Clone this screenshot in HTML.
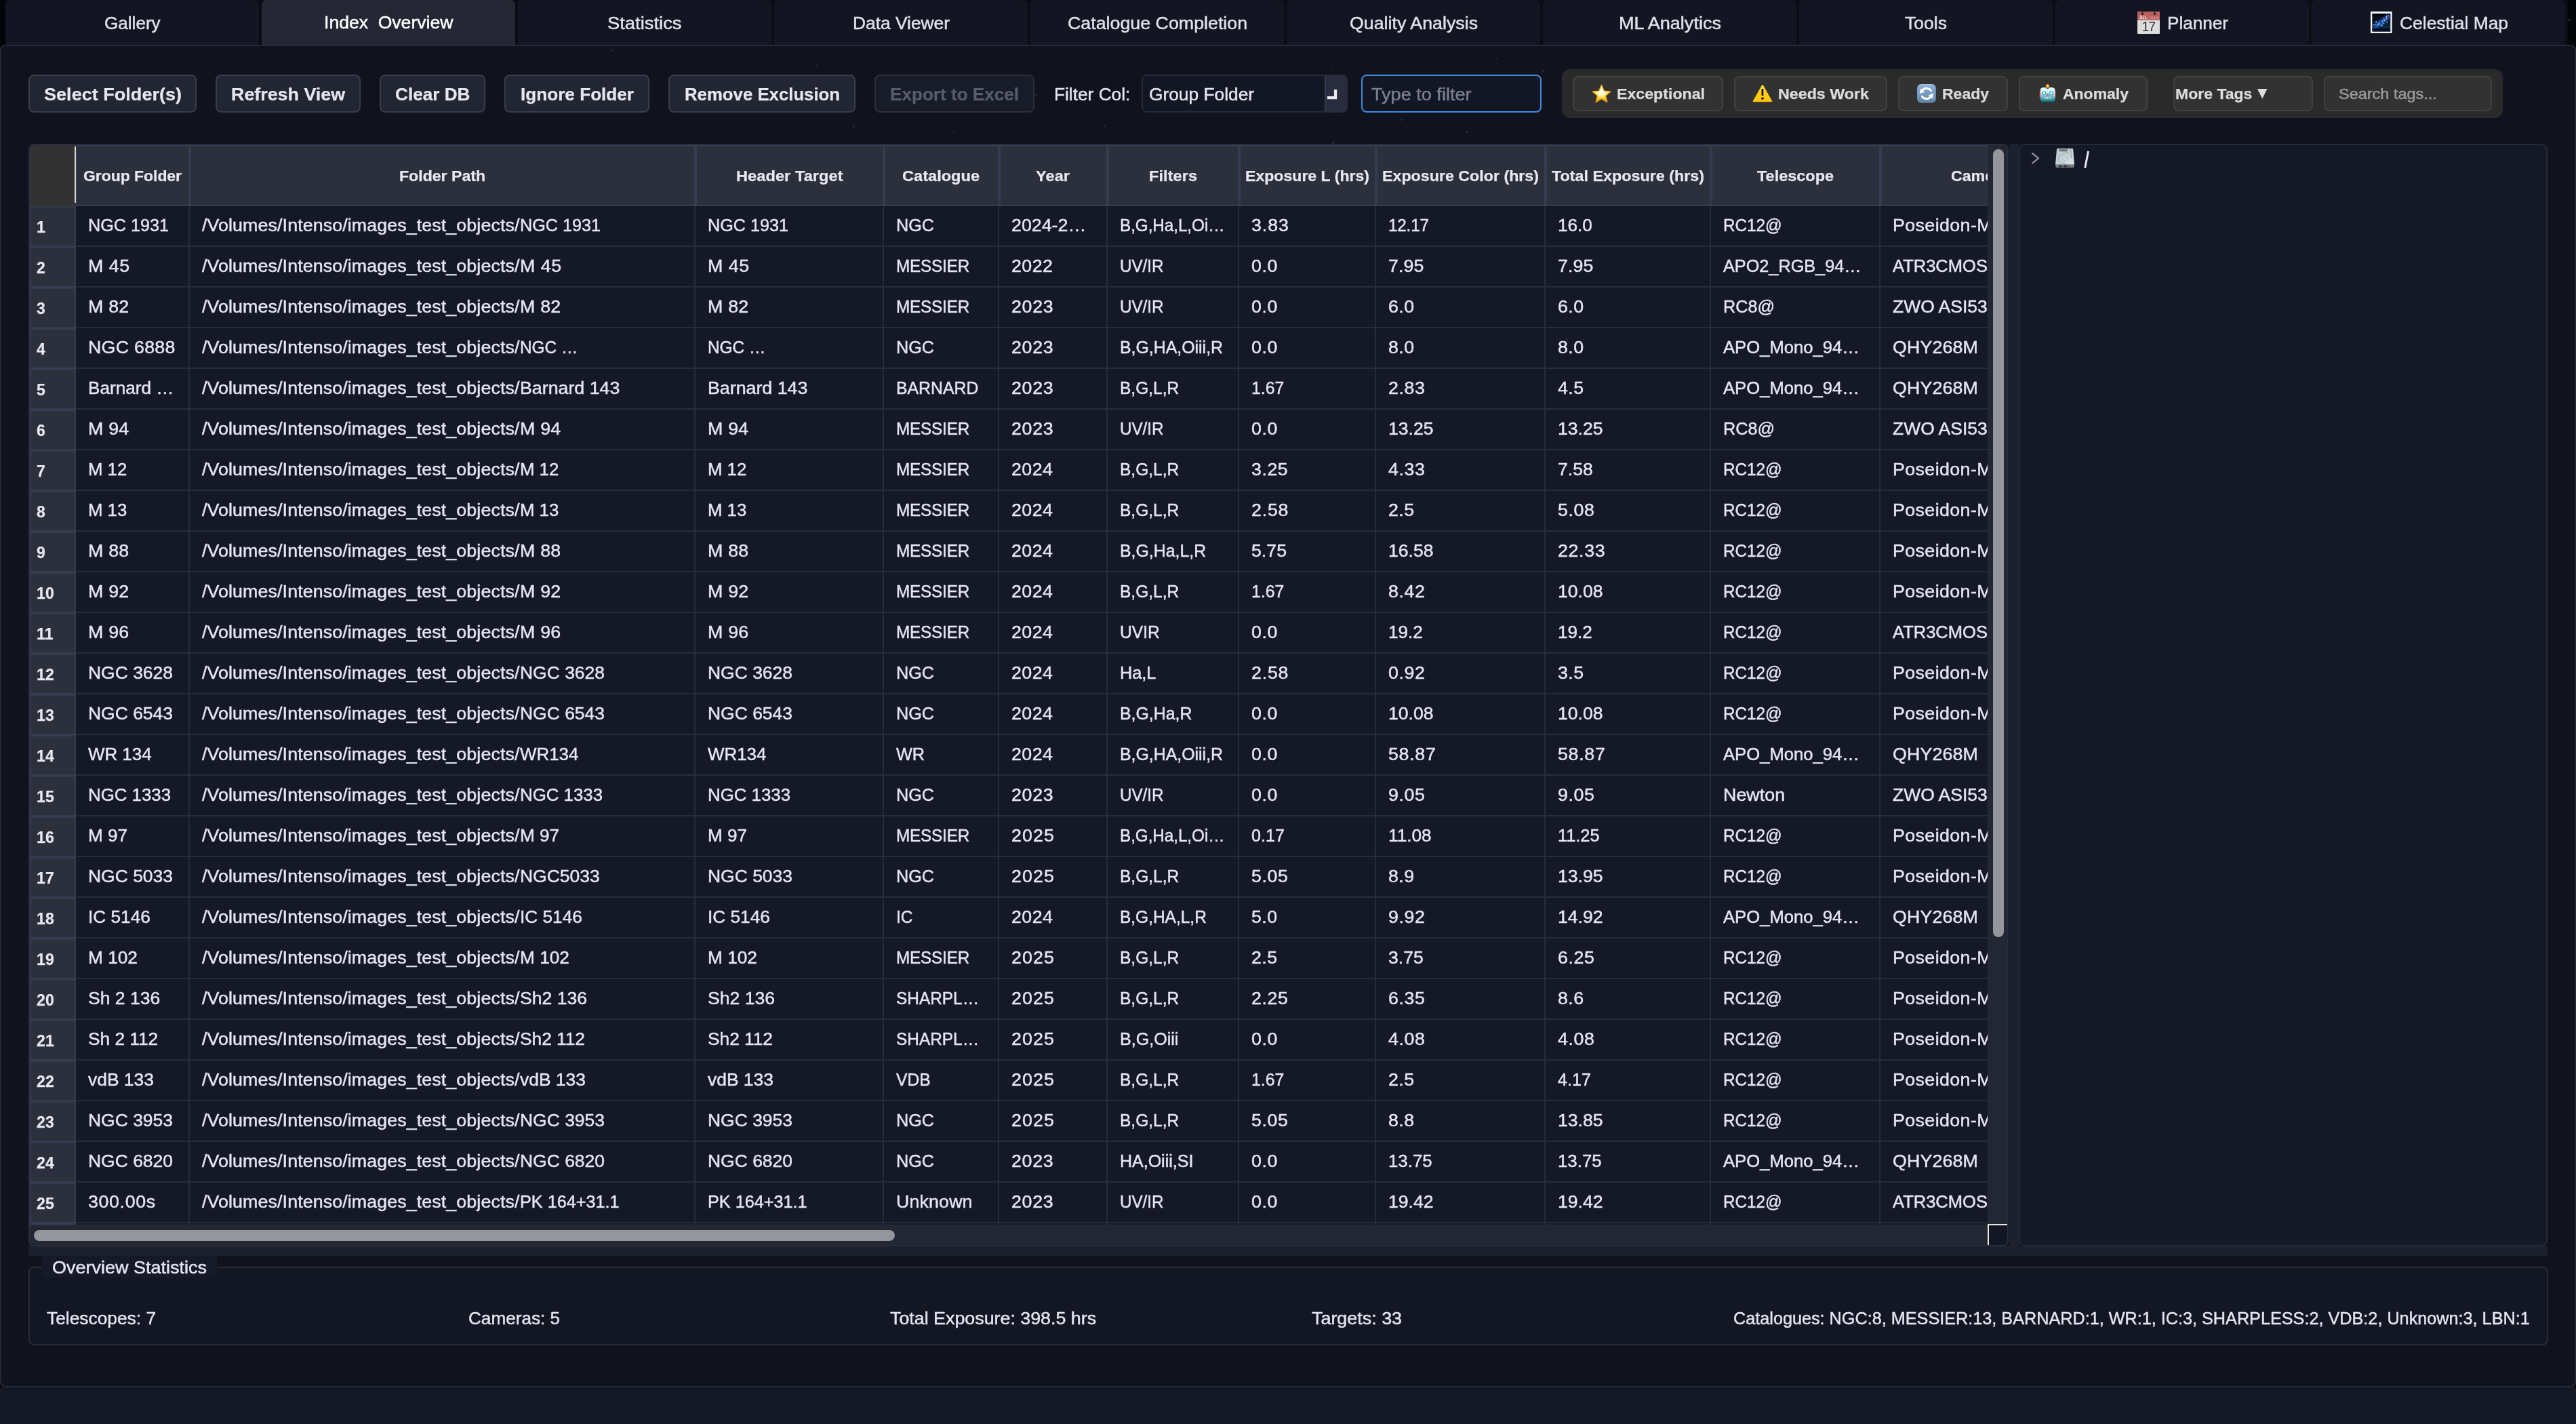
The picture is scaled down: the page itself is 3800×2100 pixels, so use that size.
<!DOCTYPE html>
<html><head><meta charset="utf-8"><title>Index Overview</title><style>
html,body{margin:0;padding:0;}
body{width:3800px;height:2100px;overflow:hidden;background:#141824;font-family:"Liberation Sans",sans-serif;position:relative;}
.b{position:absolute;box-sizing:border-box;}
.t{position:absolute;white-space:pre;overflow:visible;transform-origin:0 50%;-webkit-text-stroke:0.45px currentColor;}
svg{position:absolute;overflow:visible;}
</style></head><body><div id="root" style="position:absolute;left:0;top:0;width:3800px;height:2100px;will-change:transform;">
<div class="b" style="left:0px;top:0px;width:3800px;height:70px;background:#040508;"></div>
<div class="b" style="left:8px;top:0px;width:3780px;height:68px;background:#0b0d14;"></div>
<div class="b" style="left:0px;top:2038px;width:8px;height:8px;background:#040508;"></div>
<div class="b" style="left:3792px;top:2038px;width:8px;height:8px;background:#040508;"></div>
<div class="b" style="left:0px;top:66px;width:3800px;height:1980px;background:#10131d;border:2px solid #242939;border-radius:8px;"></div>
<div class="b" style="left:8px;top:0px;width:374px;height:66px;background:#131622;border-radius:7px 7px 0 0;"></div>
<div class="t" style="left:153.7px;top:1px;height:67px;line-height:67px;font-size:26px;color:#dfe2ee;transform:scaleX(1.0031);">Gallery</div>
<div class="b" style="left:386px;top:0px;width:374px;height:66px;background:#252735;border-radius:7px 7px 0 0;"></div>
<div class="t" style="left:477.85px;top:0px;height:67px;line-height:67px;font-size:26px;color:#ffffff;transform:scaleX(1.0211);">Index  Overview</div>
<div class="b" style="left:764px;top:0px;width:374px;height:66px;background:#131622;border-radius:7px 7px 0 0;"></div>
<div class="t" style="left:896.25px;top:1px;height:67px;line-height:67px;font-size:26px;color:#dfe2ee;transform:scaleX(1.0527);">Statistics</div>
<div class="b" style="left:1142px;top:0px;width:374px;height:66px;background:#131622;border-radius:7px 7px 0 0;"></div>
<div class="t" style="left:1257.5px;top:1px;height:67px;line-height:67px;font-size:26px;color:#dfe2ee;transform:scaleX(1.0133);">Data Viewer</div>
<div class="b" style="left:1520px;top:0px;width:374px;height:66px;background:#131622;border-radius:7px 7px 0 0;"></div>
<div class="t" style="left:1574.5px;top:1px;height:67px;line-height:67px;font-size:26px;color:#dfe2ee;transform:scaleX(1.0303);">Catalogue Completion</div>
<div class="b" style="left:1898px;top:0px;width:374px;height:66px;background:#131622;border-radius:7px 7px 0 0;"></div>
<div class="t" style="left:1990.5px;top:1px;height:67px;line-height:67px;font-size:26px;color:#dfe2ee;transform:scaleX(1.0300);">Quality Analysis</div>
<div class="b" style="left:2276px;top:0px;width:374px;height:66px;background:#131622;border-radius:7px 7px 0 0;"></div>
<div class="t" style="left:2387.5px;top:1px;height:67px;line-height:67px;font-size:26px;color:#dfe2ee;transform:scaleX(1.0417);">ML Analytics</div>
<div class="b" style="left:2654px;top:0px;width:374px;height:66px;background:#131622;border-radius:7px 7px 0 0;"></div>
<div class="t" style="left:2810.0px;top:1px;height:67px;line-height:67px;font-size:26px;color:#dfe2ee;transform:scaleX(1.0216);">Tools</div>
<div class="b" style="left:3032px;top:0px;width:374px;height:66px;background:#131622;border-radius:7px 7px 0 0;"></div>
<div class="t" style="left:3197px;top:1px;height:67px;line-height:67px;font-size:26px;color:#dfe2ee;transform:scaleX(1.0045);">Planner</div>
<div class="b" style="left:3410px;top:0px;width:374px;height:66px;background:#131622;border-radius:7px 7px 0 0;"></div>
<div class="t" style="left:3540.4px;top:1px;height:67px;line-height:67px;font-size:26px;color:#dfe2ee;transform:scaleX(1.0160);">Celestial Map</div>
<svg style="left:3153px;top:17px" width="33" height="33" viewBox="0 0 33 33">
<rect x="0" y="0" width="33" height="33" rx="1" fill="#dcdcdb"/>
<rect x="0" y="0" width="33" height="12.7" fill="#b9605d"/>
<path d="M7.5 0v3M25.5 0v3" stroke="#222" stroke-width="0.8"/>
<circle cx="7.5" cy="3.2" r="1.7" fill="#1e1e22"/><circle cx="25.5" cy="3.2" r="1.7" fill="#1e1e22"/>
<text x="2.2" y="11.3" font-family="Liberation Sans" font-size="6.6" fill="#f6e6e4" font-weight="bold">JUL</text>
<path d="M18.5 7v4M20.3 7.6v3.4M22.1 7v4M23.9 7.6v3.4M25.7 7v4M27.5 7.6v3.4M29.3 7v4M31 7.6v3.4" stroke="#d99a97" stroke-width="0.8"/>
<text x="16.2" y="29.2" font-family="Liberation Sans" font-size="19.5" fill="#333" text-anchor="middle" letter-spacing="-1.2">17</text>
</svg>
<svg style="left:3496.75px;top:17.1px" width="31.6" height="31.9" viewBox="0 0 31.6 31.9">
<defs>
<linearGradient id="mwb" x1="0" y1="0" x2="0" y2="1"><stop offset="0" stop-color="#00030a"/><stop offset="0.35" stop-color="#03101d"/><stop offset="0.8" stop-color="#063048"/><stop offset="0.86" stop-color="#020d1e"/><stop offset="1" stop-color="#050a36"/></linearGradient>
<filter id="bl1" x="-30%" y="-30%" width="160%" height="160%"><feGaussianBlur stdDeviation="1.6"/></filter>
<filter id="bl2" x="-30%" y="-30%" width="160%" height="160%"><feGaussianBlur stdDeviation="0.45"/></filter>
<clipPath id="mwc"><rect x="2.3" y="2.9" width="27" height="26.8"/></clipPath>
</defs>
<rect x="0" y="0" width="31.6" height="31.9" fill="#fbfcfd"/>
<rect x="2.3" y="2.9" width="27" height="26.8" fill="url(#mwb)"/>
<g clip-path="url(#mwc)">
<ellipse cx="16" cy="15.5" rx="15" ry="3.6" transform="rotate(-38 16 15.5)" fill="#2b5fd6" opacity="0.85" filter="url(#bl1)"/>
<ellipse cx="25" cy="9" rx="5" ry="3" transform="rotate(-50 25 9)" fill="#5a4fb0" opacity="0.6" filter="url(#bl1)"/>
<g fill="#8fd0f5" filter="url(#bl2)">
<circle cx="8.2" cy="15.3" r="1.1"/><circle cx="12.2" cy="17" r="0.9"/><circle cx="4.4" cy="19.4" r="0.8"/><circle cx="7.3" cy="19.2" r="0.8"/><circle cx="11" cy="19.6" r="1"/>
<circle cx="14.8" cy="19.3" r="0.7"/><circle cx="16.8" cy="20.8" r="1"/><circle cx="19.3" cy="17.8" r="1"/><circle cx="17.5" cy="14.5" r="0.8"/><circle cx="20.3" cy="13" r="1.2"/>
<circle cx="24.3" cy="15.5" r="1"/><circle cx="23.2" cy="10.5" r="0.9"/><circle cx="19.5" cy="9.5" r="0.7"/><circle cx="23.4" cy="7.5" r="1"/><circle cx="25.7" cy="5.5" r="0.8"/><circle cx="23.5" cy="3.8" r="0.5"/>
</g>
<path d="M2.3 25.6 l2 -0.5 l2 -1 l2.2 0.9 l2 0.5 l2.5 -0.9 l2.5 -0.9 l2.5 0.9 l2.5 0.7 l3 -1.2 l2.5 0.9 l1.3 0.3 v1.6 h-27z" fill="#020a18" opacity="0.9"/>
</g>
</svg>
<div class="b" style="left:3788.5px;top:27.5px;width:3px;height:3px;background:#4a4f58;border-radius:1px;opacity:.5"></div><div class="b" style="left:901.0px;top:72.5px;width:3px;height:3px;background:#34404f;border-radius:1px;opacity:.5"></div><div class="b" style="left:1203.5px;top:95.3px;width:3px;height:3px;background:#2a3442;border-radius:1px;opacity:.5"></div><div class="b" style="left:1258.0px;top:184.5px;width:3px;height:3px;background:#343f52;border-radius:1px;opacity:.5"></div><div class="b" style="left:1074.1px;top:113.1px;width:3px;height:3px;background:#2b3346;border-radius:1px;opacity:.5"></div><div class="b" style="left:2274.8px;top:103.2px;width:3px;height:3px;background:#3a4a60;border-radius:1px;opacity:.5"></div><div class="b" style="left:2065.9px;top:175.3px;width:3px;height:3px;background:#34445a;border-radius:1px;opacity:.5"></div><div class="b" style="left:2163.0px;top:192.9px;width:3px;height:3px;background:#3a4e68;border-radius:1px;opacity:.5"></div><div class="b" style="left:1964.8px;top:208.8px;width:3px;height:3px;background:#3a4658;border-radius:1px;opacity:.5"></div><div class="b" style="left:2205.5px;top:85.3px;width:3px;height:3px;background:#2a3648;border-radius:1px;opacity:.5"></div><div class="b" style="left:1965.3px;top:96.3px;width:3px;height:3px;background:#28303f;border-radius:1px;opacity:.5"></div><div class="b" style="left:1526.9px;top:139.2px;width:3px;height:3px;background:#34405a;border-radius:1px;opacity:.5"></div><div class="b" style="left:1395.7px;top:125.5px;width:3px;height:3px;background:#2d3850;border-radius:1px;opacity:.5"></div><div class="b" style="left:1628.3px;top:184.0px;width:3px;height:3px;background:#2c3850;border-radius:1px;opacity:.5"></div><div class="b" style="left:1405.1px;top:192.7px;width:3px;height:3px;background:#28344a;border-radius:1px;opacity:.5"></div><div class="b" style="left:1780.5px;top:145.5px;width:3px;height:3px;background:#3a4a66;border-radius:1px;opacity:.5"></div><div class="b" style="left:1418.5px;top:411.5px;width:3px;height:3px;background:#2a3446;border-radius:1px;opacity:.5"></div><div class="b" style="left:83.5px;top:316.5px;width:2px;height:2px;background:#2a3850;border-radius:1px;opacity:.5"></div><div class="b" style="left:3388.5px;top:866.5px;width:3px;height:3px;background:#262d40;border-radius:1px;opacity:.5"></div><div class="b" style="left:3294.5px;top:1201.5px;width:3px;height:3px;background:#262d40;border-radius:1px;opacity:.5"></div><div class="b" style="left:3638.5px;top:1762.5px;width:3px;height:3px;background:#283044;border-radius:1px;opacity:.5"></div><div class="b" style="left:2584.5px;top:1315.5px;width:3px;height:3px;background:#222a3c;border-radius:1px;opacity:.5"></div>
<div class="b" style="left:42px;top:110px;width:248px;height:56px;background:#222532;border:2px solid #383c4c;border-radius:8px;"></div>
<div class="t" style="left:64.5px;top:111px;height:56px;line-height:56px;font-size:26px;color:#e4e6f2;font-weight:bold;-webkit-text-stroke-width:0.25px;transform:scaleX(1.0411);">Select Folder(s)</div>
<div class="b" style="left:318px;top:110px;width:214px;height:56px;background:#222532;border:2px solid #383c4c;border-radius:8px;"></div>
<div class="t" style="left:341.0px;top:111px;height:56px;line-height:56px;font-size:26px;color:#e4e6f2;font-weight:bold;-webkit-text-stroke-width:0.25px;transform:scaleX(1.0321);">Refresh View</div>
<div class="b" style="left:560px;top:110px;width:156px;height:56px;background:#222532;border:2px solid #383c4c;border-radius:8px;"></div>
<div class="t" style="left:582.75px;top:111px;height:56px;line-height:56px;font-size:26px;color:#e4e6f2;font-weight:bold;-webkit-text-stroke-width:0.25px;transform:scaleX(1.0063);">Clear DB</div>
<div class="b" style="left:744px;top:110px;width:214px;height:56px;background:#222532;border:2px solid #383c4c;border-radius:8px;"></div>
<div class="t" style="left:767.5px;top:111px;height:56px;line-height:56px;font-size:26px;color:#e4e6f2;font-weight:bold;-webkit-text-stroke-width:0.25px;transform:scaleX(1.0056);">Ignore Folder</div>
<div class="b" style="left:986px;top:110px;width:276px;height:56px;background:#222532;border:2px solid #383c4c;border-radius:8px;"></div>
<div class="t" style="left:1009.5px;top:111px;height:56px;line-height:56px;font-size:26px;color:#e4e6f2;font-weight:bold;-webkit-text-stroke-width:0.25px;transform:scaleX(0.9908);">Remove Exclusion</div>
<div class="b" style="left:1290px;top:110px;width:236px;height:56px;background:#181b28;border:2px solid #2d2f35;border-radius:8px;"></div>
<div class="t" style="left:1313.0px;top:111px;height:56px;line-height:56px;font-size:26px;color:#575b6c;font-weight:bold;-webkit-text-stroke-width:0.25px;transform:scaleX(1.0041);">Export to Excel</div>
<div class="t" style="left:1554.7px;top:111px;height:56px;line-height:56px;font-size:26px;color:#e3e6f2;transform:scaleX(1.0097);">Filter Col:</div>
<div class="b" style="left:1684px;top:110px;width:304px;height:56px;background:#131623;border:2px solid #262b3b;border-radius:8px;"></div>
<div class="b" style="left:1956px;top:110px;width:32px;height:56px;background:#282c3c;border-radius:0 8px 8px 0;"></div>
<div class="b" style="left:1954px;top:112px;width:2px;height:52px;background:#363c4f;"></div>
<div class="t" style="left:1694.8px;top:111px;height:56px;line-height:56px;font-size:26px;color:#e3e6f2;transform:scaleX(1.0122);">Group Folder</div>
<svg style="left:1958px;top:132px" width="15" height="15" viewBox="0 0 15 15"><path d="M12.05 0 V12.05 H0" fill="none" stroke="#e8eaf3" stroke-width="4.3"/></svg>
<div class="b" style="left:2008px;top:110px;width:266px;height:56px;background:#131623;border:2px solid #3d8bdd;border-radius:8px;"></div>
<div class="t" style="left:2023px;top:111px;height:56px;line-height:56px;font-size:26px;color:#7b7f91;transform:scaleX(1.0419);">Type to filter</div>
<div class="b" style="left:2304px;top:102px;width:1388px;height:72px;background:#2a2a2a;border-radius:12px;"></div>
<div class="b" style="left:2320px;top:112px;width:222px;height:52px;background:#323232;border:2px solid #424242;border-radius:8px;"></div>
<div class="b" style="left:2558px;top:112px;width:226px;height:52px;background:#323232;border:2px solid #424242;border-radius:8px;"></div>
<div class="b" style="left:2800px;top:112px;width:162px;height:52px;background:#323232;border:2px solid #424242;border-radius:8px;"></div>
<div class="b" style="left:2978px;top:112px;width:190px;height:52px;background:#323232;border:2px solid #424242;border-radius:8px;"></div>
<div class="b" style="left:3206px;top:112px;width:206px;height:52px;background:#323232;border:2px solid #424242;border-radius:8px;"></div>
<div class="b" style="left:3428px;top:112px;width:248px;height:52px;background:#323232;border:2px solid #424242;border-radius:8px;"></div>
<div class="t" style="left:2384.7px;top:113px;height:52px;line-height:52px;font-size:22px;color:#dcdcdc;font-weight:bold;-webkit-text-stroke-width:0.25px;transform:scaleX(1.0529);">Exceptional</div>
<div class="t" style="left:2623px;top:113px;height:52px;line-height:52px;font-size:22px;color:#dcdcdc;font-weight:bold;-webkit-text-stroke-width:0.25px;transform:scaleX(1.0572);">Needs Work</div>
<div class="t" style="left:2865.2px;top:113px;height:52px;line-height:52px;font-size:22px;color:#dcdcdc;font-weight:bold;-webkit-text-stroke-width:0.25px;transform:scaleX(1.0450);">Ready</div>
<div class="t" style="left:3043.4px;top:113px;height:52px;line-height:52px;font-size:22px;color:#dcdcdc;font-weight:bold;-webkit-text-stroke-width:0.25px;transform:scaleX(1.0441);">Anomaly</div>
<div class="t" style="left:3208.6px;top:113px;height:52px;line-height:52px;font-size:22px;color:#dcdcdc;font-weight:bold;-webkit-text-stroke-width:0.25px;transform:scaleX(1.0462);">More Tags</div>
<svg style="left:3330px;top:131px" width="15" height="15" viewBox="0 0 15 15"><path d="M0 0 H14.5 L7.25 14.5z" fill="#dcdcdc"/></svg>
<div class="t" style="left:3450px;top:113px;height:52px;line-height:52px;font-size:22px;color:#9b9b9b;transform:scaleX(1.0669);">Search tags...</div>
<svg style="left:2347.5px;top:123.5px" width="29" height="28" viewBox="0 0 29 28">
<defs><radialGradient id="sg" cx="0.5" cy="0.36" r="0.62"><stop offset="0" stop-color="#fffef0"/><stop offset="0.38" stop-color="#fff7c0"/><stop offset="0.62" stop-color="#ffdc42"/><stop offset="0.85" stop-color="#fbb21c"/><stop offset="1" stop-color="#f39a10"/></radialGradient></defs>
<path d="M14.5 1.2 L18.3 10.1 L27.9 10.9 L20.6 17.2 L22.9 26.6 L14.5 21.6 L6.1 26.6 L8.4 17.2 L1.1 10.9 L10.7 10.1 Z" fill="url(#sg)" stroke="#f0a012" stroke-width="1.3" stroke-linejoin="round"/>
</svg>
<svg style="left:2585px;top:124px" width="30" height="27" viewBox="0 0 30 27">
<defs><linearGradient id="wg" x1="0" y1="0" x2="0" y2="1"><stop offset="0" stop-color="#ffd83a"/><stop offset="1" stop-color="#ffc500"/></linearGradient></defs>
<path d="M15 2 L28.2 25.2 H1.8 Z" fill="url(#wg)" stroke="url(#wg)" stroke-width="2" stroke-linejoin="round"/>
<rect x="13.6" y="7" width="2.7" height="10" rx="0.6" fill="#0a0a0a"/><circle cx="14.95" cy="21.3" r="1.75" fill="#0a0a0a"/>
</svg>
<svg style="left:2828.1px;top:124.1px" width="27.8" height="27.8" viewBox="0 0 27.8 27.8">
<defs><linearGradient id="rg" x1="0" y1="0" x2="0" y2="1"><stop offset="0" stop-color="#a6c3df"/><stop offset="0.12" stop-color="#86abd0"/><stop offset="0.6" stop-color="#7398be"/><stop offset="1" stop-color="#62829f"/></linearGradient></defs>
<rect x="0" y="0" width="27.8" height="27.8" rx="6" fill="url(#rg)"/>
<path d="M20.9 10.7 A7.6 7.6 0 0 0 7.3 10.1" fill="none" stroke="#fff" stroke-width="3.1"/>
<path d="M3.6 14.2 L4.9 6.4 L11.2 11.4 Z" fill="#fff"/>
<path d="M6.9 17.1 A7.6 7.6 0 0 0 20.5 17.7" fill="none" stroke="#fff" stroke-width="3.1"/>
<path d="M24.2 13.6 L22.9 21.4 L16.6 16.4 Z" fill="#fff"/>
</svg>
<svg style="left:3007.5px;top:123.5px" width="25" height="26.6" viewBox="0 0 25 26.6">
<defs><linearGradient id="bg1" x1="0" y1="0" x2="0" y2="1"><stop offset="0" stop-color="#e8fbfb"/><stop offset="0.3" stop-color="#d6f4f5"/><stop offset="0.55" stop-color="#97cdd4"/><stop offset="0.85" stop-color="#2c94a7"/><stop offset="1" stop-color="#0f6277"/></linearGradient>
<radialGradient id="bg2" cx="0.45" cy="0.35" r="0.7"><stop offset="0" stop-color="#ffe56e"/><stop offset="0.6" stop-color="#ffb21a"/><stop offset="1" stop-color="#ee8a08"/></radialGradient></defs>
<rect x="0.3" y="11.3" width="2.6" height="8.4" rx="1.2" fill="#d4261c"/><rect x="22.2" y="11.3" width="2.6" height="8.4" rx="1.2" fill="#d4261c"/>
<rect x="1.8" y="5" width="21.8" height="21.3" rx="4.6" fill="url(#bg1)"/>
<ellipse cx="12.5" cy="5.4" rx="2.7" ry="1.5" fill="#6a3f97"/>
<circle cx="12.5" cy="2.9" r="2.6" fill="url(#bg2)"/>
<circle cx="7.4" cy="13.5" r="3.1" fill="#22b3dc"/><circle cx="17.8" cy="13.5" r="3.1" fill="#22b3dc"/>
<circle cx="7.4" cy="13.5" r="1.75" fill="#ffffff"/><circle cx="17.8" cy="13.5" r="1.75" fill="#ffffff"/>
<path d="M12.6 13.9 l2.1 3.7 h-4.2z" fill="#e2454b"/>
<rect x="8.1" y="19.6" width="8.9" height="2.4" rx="1" fill="#f4f3ee"/>
<path d="M9.9 19.6v2.4M11.7 19.6v2.4M13.5 19.6v2.4M15.3 19.6v2.4" stroke="#5a4a44" stroke-width="0.6"/>
</svg>
<div class="b" style="left:42px;top:212px;width:2921px;height:1626px;background:#151826;border:2px solid #292e3f;border-radius:8px;"></div>
<div class="b" style="left:44px;top:214px;width:2888px;height:1592px;overflow:hidden;border-radius:6px 0 0 0;">
<div class="b" style="left:0px;top:0px;width:2889px;height:90px;background:#2c2f3c;"></div>
<div class="b" style="left:0px;top:0px;width:68px;height:90px;background:#323232;"></div>
<div class="b" style="left:66px;top:2px;width:2px;height:83px;background:#d9d6d1;"></div>
<div class="b" style="left:68px;top:0px;width:2830px;height:2px;background:#363c4f;"></div>
<div class="b" style="left:68px;top:88px;width:2830px;height:2px;background:#363c4f;"></div>
<div class="b" style="left:68px;top:0px;width:2px;height:90px;background:#363c4f;"></div>
<div class="b" style="left:234px;top:0px;width:4px;height:90px;background:#363c4f;"></div>
<div class="t" style="left:78.80000000000001px;top:1px;height:90px;line-height:90px;font-size:22px;color:#e6e8f3;font-weight:bold;-webkit-text-stroke-width:0.25px;transform:scaleX(1.0408);">Group Folder</div>
<div class="b" style="left:980px;top:0px;width:4px;height:90px;background:#363c4f;"></div>
<div class="t" style="left:544.8px;top:1px;height:90px;line-height:90px;font-size:22px;color:#e6e8f3;font-weight:bold;-webkit-text-stroke-width:0.25px;transform:scaleX(1.0496);">Folder Path</div>
<div class="b" style="left:1258px;top:0px;width:4px;height:90px;background:#363c4f;"></div>
<div class="t" style="left:1041.5px;top:1px;height:90px;line-height:90px;font-size:22px;color:#e6e8f3;font-weight:bold;-webkit-text-stroke-width:0.25px;letter-spacing:0.081px;transform:scaleX(1.0700);">Header Target</div>
<div class="b" style="left:1428px;top:0px;width:4px;height:90px;background:#363c4f;"></div>
<div class="t" style="left:1287.3px;top:1px;height:90px;line-height:90px;font-size:22px;color:#e6e8f3;font-weight:bold;-webkit-text-stroke-width:0.25px;letter-spacing:0.025px;transform:scaleX(1.0700);">Catalogue</div>
<div class="b" style="left:1588px;top:0px;width:4px;height:90px;background:#363c4f;"></div>
<div class="t" style="left:1484.3px;top:1px;height:90px;line-height:90px;font-size:22px;color:#e6e8f3;font-weight:bold;-webkit-text-stroke-width:0.25px;letter-spacing:0.082px;transform:scaleX(1.0700);">Year</div>
<div class="b" style="left:1782px;top:0px;width:4px;height:90px;background:#363c4f;"></div>
<div class="t" style="left:1650.8px;top:1px;height:90px;line-height:90px;font-size:22px;color:#e6e8f3;font-weight:bold;-webkit-text-stroke-width:0.25px;letter-spacing:0.057px;transform:scaleX(1.0700);">Filters</div>
<div class="b" style="left:1984px;top:0px;width:4px;height:90px;background:#363c4f;"></div>
<div class="t" style="left:1792.8px;top:1px;height:90px;line-height:90px;font-size:22px;color:#e6e8f3;font-weight:bold;-webkit-text-stroke-width:0.25px;transform:scaleX(1.0493);">Exposure L (hrs)</div>
<div class="b" style="left:2234px;top:0px;width:4px;height:90px;background:#363c4f;"></div>
<div class="t" style="left:1994.8000000000002px;top:1px;height:90px;line-height:90px;font-size:22px;color:#e6e8f3;font-weight:bold;-webkit-text-stroke-width:0.25px;transform:scaleX(1.0558);">Exposure Color (hrs)</div>
<div class="b" style="left:2478px;top:0px;width:4px;height:90px;background:#363c4f;"></div>
<div class="t" style="left:2244.8px;top:1px;height:90px;line-height:90px;font-size:22px;color:#e6e8f3;font-weight:bold;-webkit-text-stroke-width:0.25px;transform:scaleX(1.0599);">Total Exposure (hrs)</div>
<div class="b" style="left:2728px;top:0px;width:4px;height:90px;background:#363c4f;"></div>
<div class="t" style="left:2547.8px;top:1px;height:90px;line-height:90px;font-size:22px;color:#e6e8f3;font-weight:bold;-webkit-text-stroke-width:0.25px;transform:scaleX(1.0664);">Telescope</div>
<div class="b" style="left:3022px;top:0px;width:4px;height:90px;background:#363c4f;"></div>
<div class="t" style="left:2833.8px;top:1px;height:90px;line-height:90px;font-size:22px;color:#e6e8f3;font-weight:bold;-webkit-text-stroke-width:0.25px;transform:scaleX(1.0530);">Camera</div>
<div class="b" style="left:234px;top:90px;width:2px;height:1510px;background:#272b3b;"></div>
<div class="b" style="left:980px;top:90px;width:2px;height:1510px;background:#272b3b;"></div>
<div class="b" style="left:1258px;top:90px;width:2px;height:1510px;background:#272b3b;"></div>
<div class="b" style="left:1428px;top:90px;width:2px;height:1510px;background:#272b3b;"></div>
<div class="b" style="left:1588px;top:90px;width:2px;height:1510px;background:#272b3b;"></div>
<div class="b" style="left:1782px;top:90px;width:2px;height:1510px;background:#272b3b;"></div>
<div class="b" style="left:1984px;top:90px;width:2px;height:1510px;background:#272b3b;"></div>
<div class="b" style="left:2234px;top:90px;width:2px;height:1510px;background:#272b3b;"></div>
<div class="b" style="left:2478px;top:90px;width:2px;height:1510px;background:#272b3b;"></div>
<div class="b" style="left:2728px;top:90px;width:2px;height:1510px;background:#272b3b;"></div>
<div class="b" style="left:3022px;top:90px;width:2px;height:1510px;background:#272b3b;"></div>
<div class="b" style="left:68px;top:148px;width:2830px;height:2px;background:#272b3b;"></div>
<div class="b" style="left:0px;top:90px;width:68px;height:60px;background:#2c2f3c;border:2px solid #363c4f;"></div>
<div class="t" style="left:10px;top:91.5px;height:58px;line-height:58px;font-size:23px;color:#e6e8f3;font-weight:bold;-webkit-text-stroke-width:0.25px;letter-spacing:0.300px;">1</div>
<div class="t" style="left:86px;top:89px;height:58px;line-height:58px;font-size:25px;color:#e3e6f2;transform:scaleX(1.0083);">NGC 1931</div>
<div class="t" style="left:254px;top:89px;height:58px;line-height:58px;font-size:25px;color:#e3e6f2;letter-spacing:0.116px;transform:scaleX(1.0700);">/Volumes/Intenso/images_test_objects/</div>
<div class="t" style="left:722.5px;top:89px;height:58px;line-height:58px;font-size:25px;color:#e3e6f2;transform:scaleX(1.0083);">NGC 1931</div>
<div class="t" style="left:1000px;top:89px;height:58px;line-height:58px;font-size:25px;color:#e3e6f2;transform:scaleX(1.0083);">NGC 1931</div>
<div class="t" style="left:1278px;top:89px;height:58px;line-height:58px;font-size:25px;color:#e3e6f2;transform:scaleX(1.0082);">NGC</div>
<div class="t" style="left:1448px;top:89px;height:58px;line-height:58px;font-size:25px;color:#e3e6f2;letter-spacing:0.021px;transform:scaleX(1.0700);">2024-2…</div>
<div class="t" style="left:1608px;top:89px;height:58px;line-height:58px;font-size:25px;color:#e3e6f2;letter-spacing:-0.047px;transform:scaleX(0.9700);">B,G,Ha,L,Oi…</div>
<div class="t" style="left:1802px;top:89px;height:58px;line-height:58px;font-size:25px;color:#e3e6f2;letter-spacing:0.910px;transform:scaleX(1.0700);">3.83</div>
<div class="t" style="left:2004px;top:89px;height:58px;line-height:58px;font-size:25px;color:#e3e6f2;letter-spacing:-0.181px;transform:scaleX(0.9700);">12.17</div>
<div class="t" style="left:2254px;top:89px;height:58px;line-height:58px;font-size:25px;color:#e3e6f2;transform:scaleX(1.0437);">16.0</div>
<div class="t" style="left:2498px;top:89px;height:58px;line-height:58px;font-size:25px;color:#e3e6f2;letter-spacing:-0.026px;transform:scaleX(0.9700);">RC12@</div>
<div class="t" style="left:2748px;top:89px;height:58px;line-height:58px;font-size:25px;color:#e3e6f2;letter-spacing:0.390px;transform:scaleX(1.0700);">Poseidon-M</div>
<div class="b" style="left:68px;top:208px;width:2830px;height:2px;background:#272b3b;"></div>
<div class="b" style="left:0px;top:150px;width:68px;height:60px;background:#2c2f3c;border:2px solid #363c4f;"></div>
<div class="t" style="left:10px;top:151.5px;height:58px;line-height:58px;font-size:23px;color:#e6e8f3;font-weight:bold;-webkit-text-stroke-width:0.25px;letter-spacing:0.300px;">2</div>
<div class="t" style="left:86px;top:149px;height:58px;line-height:58px;font-size:25px;color:#e3e6f2;letter-spacing:0.534px;transform:scaleX(1.0700);">M 45</div>
<div class="t" style="left:254px;top:149px;height:58px;line-height:58px;font-size:25px;color:#e3e6f2;letter-spacing:0.116px;transform:scaleX(1.0700);">/Volumes/Intenso/images_test_objects/</div>
<div class="t" style="left:722.5px;top:149px;height:58px;line-height:58px;font-size:25px;color:#e3e6f2;letter-spacing:0.534px;transform:scaleX(1.0700);">M 45</div>
<div class="t" style="left:1000px;top:149px;height:58px;line-height:58px;font-size:25px;color:#e3e6f2;letter-spacing:0.534px;transform:scaleX(1.0700);">M 45</div>
<div class="t" style="left:1278px;top:149px;height:58px;line-height:58px;font-size:25px;color:#e3e6f2;letter-spacing:-0.162px;transform:scaleX(0.9700);">MESSIER</div>
<div class="t" style="left:1448px;top:149px;height:58px;line-height:58px;font-size:25px;color:#e3e6f2;letter-spacing:0.461px;transform:scaleX(1.0700);">2022</div>
<div class="t" style="left:1608px;top:149px;height:58px;line-height:58px;font-size:25px;color:#e3e6f2;letter-spacing:-0.070px;transform:scaleX(0.9700);">UV/IR</div>
<div class="t" style="left:1802px;top:149px;height:58px;line-height:58px;font-size:25px;color:#e3e6f2;letter-spacing:0.514px;transform:scaleX(1.0700);">0.0</div>
<div class="t" style="left:2004px;top:149px;height:58px;line-height:58px;font-size:25px;color:#e3e6f2;letter-spacing:0.131px;transform:scaleX(1.0700);">7.95</div>
<div class="t" style="left:2254px;top:149px;height:58px;line-height:58px;font-size:25px;color:#e3e6f2;letter-spacing:0.131px;transform:scaleX(1.0700);">7.95</div>
<div class="t" style="left:2498px;top:149px;height:58px;line-height:58px;font-size:25px;color:#e3e6f2;transform:scaleX(1.0099);">APO2_RGB_94…</div>
<div class="t" style="left:2748px;top:149px;height:58px;line-height:58px;font-size:25px;color:#e3e6f2;transform:scaleX(1.0209);">ATR3CMOS</div>
<div class="b" style="left:68px;top:268px;width:2830px;height:2px;background:#272b3b;"></div>
<div class="b" style="left:0px;top:210px;width:68px;height:60px;background:#2c2f3c;border:2px solid #363c4f;"></div>
<div class="t" style="left:10px;top:211.5px;height:58px;line-height:58px;font-size:23px;color:#e6e8f3;font-weight:bold;-webkit-text-stroke-width:0.25px;letter-spacing:0.300px;">3</div>
<div class="t" style="left:86px;top:209px;height:58px;line-height:58px;font-size:25px;color:#e3e6f2;letter-spacing:0.209px;transform:scaleX(1.0700);">M 82</div>
<div class="t" style="left:254px;top:209px;height:58px;line-height:58px;font-size:25px;color:#e3e6f2;letter-spacing:0.116px;transform:scaleX(1.0700);">/Volumes/Intenso/images_test_objects/</div>
<div class="t" style="left:722.5px;top:209px;height:58px;line-height:58px;font-size:25px;color:#e3e6f2;letter-spacing:0.209px;transform:scaleX(1.0700);">M 82</div>
<div class="t" style="left:1000px;top:209px;height:58px;line-height:58px;font-size:25px;color:#e3e6f2;letter-spacing:0.209px;transform:scaleX(1.0700);">M 82</div>
<div class="t" style="left:1278px;top:209px;height:58px;line-height:58px;font-size:25px;color:#e3e6f2;letter-spacing:-0.162px;transform:scaleX(0.9700);">MESSIER</div>
<div class="t" style="left:1448px;top:209px;height:58px;line-height:58px;font-size:25px;color:#e3e6f2;letter-spacing:0.680px;transform:scaleX(1.0700);">2023</div>
<div class="t" style="left:1608px;top:209px;height:58px;line-height:58px;font-size:25px;color:#e3e6f2;letter-spacing:-0.070px;transform:scaleX(0.9700);">UV/IR</div>
<div class="t" style="left:1802px;top:209px;height:58px;line-height:58px;font-size:25px;color:#e3e6f2;letter-spacing:0.514px;transform:scaleX(1.0700);">0.0</div>
<div class="t" style="left:2004px;top:209px;height:58px;line-height:58px;font-size:25px;color:#e3e6f2;letter-spacing:0.425px;transform:scaleX(1.0700);">6.0</div>
<div class="t" style="left:2254px;top:209px;height:58px;line-height:58px;font-size:25px;color:#e3e6f2;letter-spacing:0.425px;transform:scaleX(1.0700);">6.0</div>
<div class="t" style="left:2498px;top:209px;height:58px;line-height:58px;font-size:25px;color:#e3e6f2;transform:scaleX(1.0078);">RC8@</div>
<div class="t" style="left:2748px;top:209px;height:58px;line-height:58px;font-size:25px;color:#e3e6f2;transform:scaleX(1.0583);">ZWO ASI53</div>
<div class="b" style="left:68px;top:328px;width:2830px;height:2px;background:#272b3b;"></div>
<div class="b" style="left:0px;top:270px;width:68px;height:60px;background:#2c2f3c;border:2px solid #363c4f;"></div>
<div class="t" style="left:10px;top:271.5px;height:58px;line-height:58px;font-size:23px;color:#e6e8f3;font-weight:bold;-webkit-text-stroke-width:0.25px;letter-spacing:0.300px;">4</div>
<div class="t" style="left:86px;top:269px;height:58px;line-height:58px;font-size:25px;color:#e3e6f2;letter-spacing:0.268px;transform:scaleX(1.0700);">NGC 6888</div>
<div class="t" style="left:254px;top:269px;height:58px;line-height:58px;font-size:25px;color:#e3e6f2;letter-spacing:0.116px;transform:scaleX(1.0700);">/Volumes/Intenso/images_test_objects/</div>
<div class="t" style="left:722.5px;top:269px;height:58px;line-height:58px;font-size:25px;color:#e3e6f2;transform:scaleX(0.9757);">NGC …</div>
<div class="t" style="left:1000px;top:269px;height:58px;line-height:58px;font-size:25px;color:#e3e6f2;transform:scaleX(0.9757);">NGC …</div>
<div class="t" style="left:1278px;top:269px;height:58px;line-height:58px;font-size:25px;color:#e3e6f2;transform:scaleX(1.0082);">NGC</div>
<div class="t" style="left:1448px;top:269px;height:58px;line-height:58px;font-size:25px;color:#e3e6f2;letter-spacing:0.680px;transform:scaleX(1.0700);">2023</div>
<div class="t" style="left:1608px;top:269px;height:58px;line-height:58px;font-size:25px;color:#e3e6f2;transform:scaleX(0.9948);">B,G,HA,Oiii,R</div>
<div class="t" style="left:1802px;top:269px;height:58px;line-height:58px;font-size:25px;color:#e3e6f2;letter-spacing:0.514px;transform:scaleX(1.0700);">0.0</div>
<div class="t" style="left:2004px;top:269px;height:58px;line-height:58px;font-size:25px;color:#e3e6f2;letter-spacing:0.425px;transform:scaleX(1.0700);">8.0</div>
<div class="t" style="left:2254px;top:269px;height:58px;line-height:58px;font-size:25px;color:#e3e6f2;letter-spacing:0.425px;transform:scaleX(1.0700);">8.0</div>
<div class="t" style="left:2498px;top:269px;height:58px;line-height:58px;font-size:25px;color:#e3e6f2;transform:scaleX(1.0257);">APO_Mono_94…</div>
<div class="t" style="left:2748px;top:269px;height:58px;line-height:58px;font-size:25px;color:#e3e6f2;letter-spacing:0.157px;transform:scaleX(1.0700);">QHY268M</div>
<div class="b" style="left:68px;top:388px;width:2830px;height:2px;background:#272b3b;"></div>
<div class="b" style="left:0px;top:330px;width:68px;height:60px;background:#2c2f3c;border:2px solid #363c4f;"></div>
<div class="t" style="left:10px;top:331.5px;height:58px;line-height:58px;font-size:23px;color:#e6e8f3;font-weight:bold;-webkit-text-stroke-width:0.25px;letter-spacing:0.300px;">5</div>
<div class="t" style="left:86px;top:329px;height:58px;line-height:58px;font-size:25px;color:#e3e6f2;transform:scaleX(1.0461);">Barnard …</div>
<div class="t" style="left:254px;top:329px;height:58px;line-height:58px;font-size:25px;color:#e3e6f2;letter-spacing:0.116px;transform:scaleX(1.0700);">/Volumes/Intenso/images_test_objects/</div>
<div class="t" style="left:722.5px;top:329px;height:58px;line-height:58px;font-size:25px;color:#e3e6f2;letter-spacing:0.012px;transform:scaleX(1.0700);">Barnard 143</div>
<div class="t" style="left:1000px;top:329px;height:58px;line-height:58px;font-size:25px;color:#e3e6f2;letter-spacing:0.012px;transform:scaleX(1.0700);">Barnard 143</div>
<div class="t" style="left:1278px;top:329px;height:58px;line-height:58px;font-size:25px;color:#e3e6f2;transform:scaleX(0.9926);">BARNARD</div>
<div class="t" style="left:1448px;top:329px;height:58px;line-height:58px;font-size:25px;color:#e3e6f2;letter-spacing:0.680px;transform:scaleX(1.0700);">2023</div>
<div class="t" style="left:1608px;top:329px;height:58px;line-height:58px;font-size:25px;color:#e3e6f2;transform:scaleX(0.9816);">B,G,L,R</div>
<div class="t" style="left:1802px;top:329px;height:58px;line-height:58px;font-size:25px;color:#e3e6f2;transform:scaleX(0.9903);">1.67</div>
<div class="t" style="left:2004px;top:329px;height:58px;line-height:58px;font-size:25px;color:#e3e6f2;letter-spacing:0.553px;transform:scaleX(1.0700);">2.83</div>
<div class="t" style="left:2254px;top:329px;height:58px;line-height:58px;font-size:25px;color:#e3e6f2;letter-spacing:0.425px;transform:scaleX(1.0700);">4.5</div>
<div class="t" style="left:2498px;top:329px;height:58px;line-height:58px;font-size:25px;color:#e3e6f2;transform:scaleX(1.0257);">APO_Mono_94…</div>
<div class="t" style="left:2748px;top:329px;height:58px;line-height:58px;font-size:25px;color:#e3e6f2;letter-spacing:0.157px;transform:scaleX(1.0700);">QHY268M</div>
<div class="b" style="left:68px;top:448px;width:2830px;height:2px;background:#272b3b;"></div>
<div class="b" style="left:0px;top:390px;width:68px;height:60px;background:#2c2f3c;border:2px solid #363c4f;"></div>
<div class="t" style="left:10px;top:391.5px;height:58px;line-height:58px;font-size:23px;color:#e6e8f3;font-weight:bold;-webkit-text-stroke-width:0.25px;letter-spacing:0.300px;">6</div>
<div class="t" style="left:86px;top:389px;height:58px;line-height:58px;font-size:25px;color:#e3e6f2;letter-spacing:0.209px;transform:scaleX(1.0700);">M 94</div>
<div class="t" style="left:254px;top:389px;height:58px;line-height:58px;font-size:25px;color:#e3e6f2;letter-spacing:0.116px;transform:scaleX(1.0700);">/Volumes/Intenso/images_test_objects/</div>
<div class="t" style="left:722.5px;top:389px;height:58px;line-height:58px;font-size:25px;color:#e3e6f2;letter-spacing:0.209px;transform:scaleX(1.0700);">M 94</div>
<div class="t" style="left:1000px;top:389px;height:58px;line-height:58px;font-size:25px;color:#e3e6f2;letter-spacing:0.209px;transform:scaleX(1.0700);">M 94</div>
<div class="t" style="left:1278px;top:389px;height:58px;line-height:58px;font-size:25px;color:#e3e6f2;letter-spacing:-0.162px;transform:scaleX(0.9700);">MESSIER</div>
<div class="t" style="left:1448px;top:389px;height:58px;line-height:58px;font-size:25px;color:#e3e6f2;letter-spacing:0.680px;transform:scaleX(1.0700);">2023</div>
<div class="t" style="left:1608px;top:389px;height:58px;line-height:58px;font-size:25px;color:#e3e6f2;letter-spacing:-0.070px;transform:scaleX(0.9700);">UV/IR</div>
<div class="t" style="left:1802px;top:389px;height:58px;line-height:58px;font-size:25px;color:#e3e6f2;letter-spacing:0.514px;transform:scaleX(1.0700);">0.0</div>
<div class="t" style="left:2004px;top:389px;height:58px;line-height:58px;font-size:25px;color:#e3e6f2;transform:scaleX(1.0649);">13.25</div>
<div class="t" style="left:2254px;top:389px;height:58px;line-height:58px;font-size:25px;color:#e3e6f2;transform:scaleX(1.0649);">13.25</div>
<div class="t" style="left:2498px;top:389px;height:58px;line-height:58px;font-size:25px;color:#e3e6f2;transform:scaleX(1.0078);">RC8@</div>
<div class="t" style="left:2748px;top:389px;height:58px;line-height:58px;font-size:25px;color:#e3e6f2;transform:scaleX(1.0583);">ZWO ASI53</div>
<div class="b" style="left:68px;top:508px;width:2830px;height:2px;background:#272b3b;"></div>
<div class="b" style="left:0px;top:450px;width:68px;height:60px;background:#2c2f3c;border:2px solid #363c4f;"></div>
<div class="t" style="left:10px;top:451.5px;height:58px;line-height:58px;font-size:23px;color:#e6e8f3;font-weight:bold;-webkit-text-stroke-width:0.25px;letter-spacing:0.300px;">7</div>
<div class="t" style="left:86px;top:449px;height:58px;line-height:58px;font-size:25px;color:#e3e6f2;transform:scaleX(1.0288);">M 12</div>
<div class="t" style="left:254px;top:449px;height:58px;line-height:58px;font-size:25px;color:#e3e6f2;letter-spacing:0.116px;transform:scaleX(1.0700);">/Volumes/Intenso/images_test_objects/</div>
<div class="t" style="left:722.5px;top:449px;height:58px;line-height:58px;font-size:25px;color:#e3e6f2;transform:scaleX(1.0288);">M 12</div>
<div class="t" style="left:1000px;top:449px;height:58px;line-height:58px;font-size:25px;color:#e3e6f2;transform:scaleX(1.0288);">M 12</div>
<div class="t" style="left:1278px;top:449px;height:58px;line-height:58px;font-size:25px;color:#e3e6f2;letter-spacing:-0.162px;transform:scaleX(0.9700);">MESSIER</div>
<div class="t" style="left:1448px;top:449px;height:58px;line-height:58px;font-size:25px;color:#e3e6f2;letter-spacing:0.430px;transform:scaleX(1.0700);">2024</div>
<div class="t" style="left:1608px;top:449px;height:58px;line-height:58px;font-size:25px;color:#e3e6f2;transform:scaleX(0.9816);">B,G,L,R</div>
<div class="t" style="left:1802px;top:449px;height:58px;line-height:58px;font-size:25px;color:#e3e6f2;letter-spacing:0.505px;transform:scaleX(1.0700);">3.25</div>
<div class="t" style="left:2004px;top:449px;height:58px;line-height:58px;font-size:25px;color:#e3e6f2;letter-spacing:0.553px;transform:scaleX(1.0700);">4.33</div>
<div class="t" style="left:2254px;top:449px;height:58px;line-height:58px;font-size:25px;color:#e3e6f2;transform:scaleX(1.0648);">7.58</div>
<div class="t" style="left:2498px;top:449px;height:58px;line-height:58px;font-size:25px;color:#e3e6f2;letter-spacing:-0.026px;transform:scaleX(0.9700);">RC12@</div>
<div class="t" style="left:2748px;top:449px;height:58px;line-height:58px;font-size:25px;color:#e3e6f2;letter-spacing:0.390px;transform:scaleX(1.0700);">Poseidon-M</div>
<div class="b" style="left:68px;top:568px;width:2830px;height:2px;background:#272b3b;"></div>
<div class="b" style="left:0px;top:510px;width:68px;height:60px;background:#2c2f3c;border:2px solid #363c4f;"></div>
<div class="t" style="left:10px;top:511.5px;height:58px;line-height:58px;font-size:23px;color:#e6e8f3;font-weight:bold;-webkit-text-stroke-width:0.25px;letter-spacing:0.300px;">8</div>
<div class="t" style="left:86px;top:509px;height:58px;line-height:58px;font-size:25px;color:#e3e6f2;transform:scaleX(1.0288);">M 13</div>
<div class="t" style="left:254px;top:509px;height:58px;line-height:58px;font-size:25px;color:#e3e6f2;letter-spacing:0.116px;transform:scaleX(1.0700);">/Volumes/Intenso/images_test_objects/</div>
<div class="t" style="left:722.5px;top:509px;height:58px;line-height:58px;font-size:25px;color:#e3e6f2;transform:scaleX(1.0288);">M 13</div>
<div class="t" style="left:1000px;top:509px;height:58px;line-height:58px;font-size:25px;color:#e3e6f2;transform:scaleX(1.0288);">M 13</div>
<div class="t" style="left:1278px;top:509px;height:58px;line-height:58px;font-size:25px;color:#e3e6f2;letter-spacing:-0.162px;transform:scaleX(0.9700);">MESSIER</div>
<div class="t" style="left:1448px;top:509px;height:58px;line-height:58px;font-size:25px;color:#e3e6f2;letter-spacing:0.430px;transform:scaleX(1.0700);">2024</div>
<div class="t" style="left:1608px;top:509px;height:58px;line-height:58px;font-size:25px;color:#e3e6f2;transform:scaleX(0.9816);">B,G,L,R</div>
<div class="t" style="left:1802px;top:509px;height:58px;line-height:58px;font-size:25px;color:#e3e6f2;letter-spacing:0.754px;transform:scaleX(1.0700);">2.58</div>
<div class="t" style="left:2004px;top:509px;height:58px;line-height:58px;font-size:25px;color:#e3e6f2;letter-spacing:0.425px;transform:scaleX(1.0700);">2.5</div>
<div class="t" style="left:2254px;top:509px;height:58px;line-height:58px;font-size:25px;color:#e3e6f2;letter-spacing:0.553px;transform:scaleX(1.0700);">5.08</div>
<div class="t" style="left:2498px;top:509px;height:58px;line-height:58px;font-size:25px;color:#e3e6f2;letter-spacing:-0.026px;transform:scaleX(0.9700);">RC12@</div>
<div class="t" style="left:2748px;top:509px;height:58px;line-height:58px;font-size:25px;color:#e3e6f2;letter-spacing:0.390px;transform:scaleX(1.0700);">Poseidon-M</div>
<div class="b" style="left:68px;top:628px;width:2830px;height:2px;background:#272b3b;"></div>
<div class="b" style="left:0px;top:570px;width:68px;height:60px;background:#2c2f3c;border:2px solid #363c4f;"></div>
<div class="t" style="left:10px;top:571.5px;height:58px;line-height:58px;font-size:23px;color:#e6e8f3;font-weight:bold;-webkit-text-stroke-width:0.25px;letter-spacing:0.300px;">9</div>
<div class="t" style="left:86px;top:569px;height:58px;line-height:58px;font-size:25px;color:#e3e6f2;letter-spacing:0.209px;transform:scaleX(1.0700);">M 88</div>
<div class="t" style="left:254px;top:569px;height:58px;line-height:58px;font-size:25px;color:#e3e6f2;letter-spacing:0.116px;transform:scaleX(1.0700);">/Volumes/Intenso/images_test_objects/</div>
<div class="t" style="left:722.5px;top:569px;height:58px;line-height:58px;font-size:25px;color:#e3e6f2;letter-spacing:0.209px;transform:scaleX(1.0700);">M 88</div>
<div class="t" style="left:1000px;top:569px;height:58px;line-height:58px;font-size:25px;color:#e3e6f2;letter-spacing:0.209px;transform:scaleX(1.0700);">M 88</div>
<div class="t" style="left:1278px;top:569px;height:58px;line-height:58px;font-size:25px;color:#e3e6f2;letter-spacing:-0.162px;transform:scaleX(0.9700);">MESSIER</div>
<div class="t" style="left:1448px;top:569px;height:58px;line-height:58px;font-size:25px;color:#e3e6f2;letter-spacing:0.430px;transform:scaleX(1.0700);">2024</div>
<div class="t" style="left:1608px;top:569px;height:58px;line-height:58px;font-size:25px;color:#e3e6f2;transform:scaleX(0.9942);">B,G,Ha,L,R</div>
<div class="t" style="left:1802px;top:569px;height:58px;line-height:58px;font-size:25px;color:#e3e6f2;transform:scaleX(1.0684);">5.75</div>
<div class="t" style="left:2004px;top:569px;height:58px;line-height:58px;font-size:25px;color:#e3e6f2;transform:scaleX(1.0649);">16.58</div>
<div class="t" style="left:2254px;top:569px;height:58px;line-height:58px;font-size:25px;color:#e3e6f2;letter-spacing:0.617px;transform:scaleX(1.0700);">22.33</div>
<div class="t" style="left:2498px;top:569px;height:58px;line-height:58px;font-size:25px;color:#e3e6f2;letter-spacing:-0.026px;transform:scaleX(0.9700);">RC12@</div>
<div class="t" style="left:2748px;top:569px;height:58px;line-height:58px;font-size:25px;color:#e3e6f2;letter-spacing:0.390px;transform:scaleX(1.0700);">Poseidon-M</div>
<div class="b" style="left:68px;top:688px;width:2830px;height:2px;background:#272b3b;"></div>
<div class="b" style="left:0px;top:630px;width:68px;height:60px;background:#2c2f3c;border:2px solid #363c4f;"></div>
<div class="t" style="left:10px;top:631.5px;height:58px;line-height:58px;font-size:23px;color:#e6e8f3;font-weight:bold;-webkit-text-stroke-width:0.25px;letter-spacing:0.300px;">10</div>
<div class="t" style="left:86px;top:629px;height:58px;line-height:58px;font-size:25px;color:#e3e6f2;letter-spacing:0.209px;transform:scaleX(1.0700);">M 92</div>
<div class="t" style="left:254px;top:629px;height:58px;line-height:58px;font-size:25px;color:#e3e6f2;letter-spacing:0.116px;transform:scaleX(1.0700);">/Volumes/Intenso/images_test_objects/</div>
<div class="t" style="left:722.5px;top:629px;height:58px;line-height:58px;font-size:25px;color:#e3e6f2;letter-spacing:0.209px;transform:scaleX(1.0700);">M 92</div>
<div class="t" style="left:1000px;top:629px;height:58px;line-height:58px;font-size:25px;color:#e3e6f2;letter-spacing:0.209px;transform:scaleX(1.0700);">M 92</div>
<div class="t" style="left:1278px;top:629px;height:58px;line-height:58px;font-size:25px;color:#e3e6f2;letter-spacing:-0.162px;transform:scaleX(0.9700);">MESSIER</div>
<div class="t" style="left:1448px;top:629px;height:58px;line-height:58px;font-size:25px;color:#e3e6f2;letter-spacing:0.430px;transform:scaleX(1.0700);">2024</div>
<div class="t" style="left:1608px;top:629px;height:58px;line-height:58px;font-size:25px;color:#e3e6f2;transform:scaleX(0.9816);">B,G,L,R</div>
<div class="t" style="left:1802px;top:629px;height:58px;line-height:58px;font-size:25px;color:#e3e6f2;transform:scaleX(0.9903);">1.67</div>
<div class="t" style="left:2004px;top:629px;height:58px;line-height:58px;font-size:25px;color:#e3e6f2;letter-spacing:0.553px;transform:scaleX(1.0700);">8.42</div>
<div class="t" style="left:2254px;top:629px;height:58px;line-height:58px;font-size:25px;color:#e3e6f2;transform:scaleX(1.0649);">10.08</div>
<div class="t" style="left:2498px;top:629px;height:58px;line-height:58px;font-size:25px;color:#e3e6f2;letter-spacing:-0.026px;transform:scaleX(0.9700);">RC12@</div>
<div class="t" style="left:2748px;top:629px;height:58px;line-height:58px;font-size:25px;color:#e3e6f2;letter-spacing:0.390px;transform:scaleX(1.0700);">Poseidon-M</div>
<div class="b" style="left:68px;top:748px;width:2830px;height:2px;background:#272b3b;"></div>
<div class="b" style="left:0px;top:690px;width:68px;height:60px;background:#2c2f3c;border:2px solid #363c4f;"></div>
<div class="t" style="left:10px;top:691.5px;height:58px;line-height:58px;font-size:23px;color:#e6e8f3;font-weight:bold;-webkit-text-stroke-width:0.25px;letter-spacing:0.300px;">11</div>
<div class="t" style="left:86px;top:689px;height:58px;line-height:58px;font-size:25px;color:#e3e6f2;letter-spacing:0.209px;transform:scaleX(1.0700);">M 96</div>
<div class="t" style="left:254px;top:689px;height:58px;line-height:58px;font-size:25px;color:#e3e6f2;letter-spacing:0.116px;transform:scaleX(1.0700);">/Volumes/Intenso/images_test_objects/</div>
<div class="t" style="left:722.5px;top:689px;height:58px;line-height:58px;font-size:25px;color:#e3e6f2;letter-spacing:0.209px;transform:scaleX(1.0700);">M 96</div>
<div class="t" style="left:1000px;top:689px;height:58px;line-height:58px;font-size:25px;color:#e3e6f2;letter-spacing:0.209px;transform:scaleX(1.0700);">M 96</div>
<div class="t" style="left:1278px;top:689px;height:58px;line-height:58px;font-size:25px;color:#e3e6f2;letter-spacing:-0.162px;transform:scaleX(0.9700);">MESSIER</div>
<div class="t" style="left:1448px;top:689px;height:58px;line-height:58px;font-size:25px;color:#e3e6f2;letter-spacing:0.430px;transform:scaleX(1.0700);">2024</div>
<div class="t" style="left:1608px;top:689px;height:58px;line-height:58px;font-size:25px;color:#e3e6f2;transform:scaleX(0.9850);">UVIR</div>
<div class="t" style="left:1802px;top:689px;height:58px;line-height:58px;font-size:25px;color:#e3e6f2;letter-spacing:0.514px;transform:scaleX(1.0700);">0.0</div>
<div class="t" style="left:2004px;top:689px;height:58px;line-height:58px;font-size:25px;color:#e3e6f2;transform:scaleX(1.0456);">19.2</div>
<div class="t" style="left:2254px;top:689px;height:58px;line-height:58px;font-size:25px;color:#e3e6f2;transform:scaleX(1.0456);">19.2</div>
<div class="t" style="left:2498px;top:689px;height:58px;line-height:58px;font-size:25px;color:#e3e6f2;letter-spacing:-0.026px;transform:scaleX(0.9700);">RC12@</div>
<div class="t" style="left:2748px;top:689px;height:58px;line-height:58px;font-size:25px;color:#e3e6f2;transform:scaleX(1.0209);">ATR3CMOS</div>
<div class="b" style="left:68px;top:808px;width:2830px;height:2px;background:#272b3b;"></div>
<div class="b" style="left:0px;top:750px;width:68px;height:60px;background:#2c2f3c;border:2px solid #363c4f;"></div>
<div class="t" style="left:10px;top:751.5px;height:58px;line-height:58px;font-size:23px;color:#e6e8f3;font-weight:bold;-webkit-text-stroke-width:0.25px;letter-spacing:0.300px;">12</div>
<div class="t" style="left:86px;top:749px;height:58px;line-height:58px;font-size:25px;color:#e3e6f2;transform:scaleX(1.0580);">NGC 3628</div>
<div class="t" style="left:254px;top:749px;height:58px;line-height:58px;font-size:25px;color:#e3e6f2;letter-spacing:0.116px;transform:scaleX(1.0700);">/Volumes/Intenso/images_test_objects/</div>
<div class="t" style="left:722.5px;top:749px;height:58px;line-height:58px;font-size:25px;color:#e3e6f2;transform:scaleX(1.0580);">NGC 3628</div>
<div class="t" style="left:1000px;top:749px;height:58px;line-height:58px;font-size:25px;color:#e3e6f2;transform:scaleX(1.0580);">NGC 3628</div>
<div class="t" style="left:1278px;top:749px;height:58px;line-height:58px;font-size:25px;color:#e3e6f2;transform:scaleX(1.0082);">NGC</div>
<div class="t" style="left:1448px;top:749px;height:58px;line-height:58px;font-size:25px;color:#e3e6f2;letter-spacing:0.430px;transform:scaleX(1.0700);">2024</div>
<div class="t" style="left:1608px;top:749px;height:58px;line-height:58px;font-size:25px;color:#e3e6f2;transform:scaleX(1.0111);">Ha,L</div>
<div class="t" style="left:1802px;top:749px;height:58px;line-height:58px;font-size:25px;color:#e3e6f2;letter-spacing:0.754px;transform:scaleX(1.0700);">2.58</div>
<div class="t" style="left:2004px;top:749px;height:58px;line-height:58px;font-size:25px;color:#e3e6f2;letter-spacing:0.553px;transform:scaleX(1.0700);">0.92</div>
<div class="t" style="left:2254px;top:749px;height:58px;line-height:58px;font-size:25px;color:#e3e6f2;letter-spacing:0.425px;transform:scaleX(1.0700);">3.5</div>
<div class="t" style="left:2498px;top:749px;height:58px;line-height:58px;font-size:25px;color:#e3e6f2;letter-spacing:-0.026px;transform:scaleX(0.9700);">RC12@</div>
<div class="t" style="left:2748px;top:749px;height:58px;line-height:58px;font-size:25px;color:#e3e6f2;letter-spacing:0.390px;transform:scaleX(1.0700);">Poseidon-M</div>
<div class="b" style="left:68px;top:868px;width:2830px;height:2px;background:#272b3b;"></div>
<div class="b" style="left:0px;top:810px;width:68px;height:60px;background:#2c2f3c;border:2px solid #363c4f;"></div>
<div class="t" style="left:10px;top:811.5px;height:58px;line-height:58px;font-size:23px;color:#e6e8f3;font-weight:bold;-webkit-text-stroke-width:0.25px;letter-spacing:0.300px;">13</div>
<div class="t" style="left:86px;top:809px;height:58px;line-height:58px;font-size:25px;color:#e3e6f2;transform:scaleX(1.0580);">NGC 6543</div>
<div class="t" style="left:254px;top:809px;height:58px;line-height:58px;font-size:25px;color:#e3e6f2;letter-spacing:0.116px;transform:scaleX(1.0700);">/Volumes/Intenso/images_test_objects/</div>
<div class="t" style="left:722.5px;top:809px;height:58px;line-height:58px;font-size:25px;color:#e3e6f2;transform:scaleX(1.0580);">NGC 6543</div>
<div class="t" style="left:1000px;top:809px;height:58px;line-height:58px;font-size:25px;color:#e3e6f2;transform:scaleX(1.0580);">NGC 6543</div>
<div class="t" style="left:1278px;top:809px;height:58px;line-height:58px;font-size:25px;color:#e3e6f2;transform:scaleX(1.0082);">NGC</div>
<div class="t" style="left:1448px;top:809px;height:58px;line-height:58px;font-size:25px;color:#e3e6f2;letter-spacing:0.430px;transform:scaleX(1.0700);">2024</div>
<div class="t" style="left:1608px;top:809px;height:58px;line-height:58px;font-size:25px;color:#e3e6f2;transform:scaleX(0.9941);">B,G,Ha,R</div>
<div class="t" style="left:1802px;top:809px;height:58px;line-height:58px;font-size:25px;color:#e3e6f2;letter-spacing:0.514px;transform:scaleX(1.0700);">0.0</div>
<div class="t" style="left:2004px;top:809px;height:58px;line-height:58px;font-size:25px;color:#e3e6f2;transform:scaleX(1.0649);">10.08</div>
<div class="t" style="left:2254px;top:809px;height:58px;line-height:58px;font-size:25px;color:#e3e6f2;transform:scaleX(1.0649);">10.08</div>
<div class="t" style="left:2498px;top:809px;height:58px;line-height:58px;font-size:25px;color:#e3e6f2;letter-spacing:-0.026px;transform:scaleX(0.9700);">RC12@</div>
<div class="t" style="left:2748px;top:809px;height:58px;line-height:58px;font-size:25px;color:#e3e6f2;letter-spacing:0.390px;transform:scaleX(1.0700);">Poseidon-M</div>
<div class="b" style="left:68px;top:928px;width:2830px;height:2px;background:#272b3b;"></div>
<div class="b" style="left:0px;top:870px;width:68px;height:60px;background:#2c2f3c;border:2px solid #363c4f;"></div>
<div class="t" style="left:10px;top:871.5px;height:58px;line-height:58px;font-size:23px;color:#e6e8f3;font-weight:bold;-webkit-text-stroke-width:0.25px;letter-spacing:0.300px;">14</div>
<div class="t" style="left:86px;top:869px;height:58px;line-height:58px;font-size:25px;color:#e3e6f2;transform:scaleX(1.0362);">WR 134</div>
<div class="t" style="left:254px;top:869px;height:58px;line-height:58px;font-size:25px;color:#e3e6f2;letter-spacing:0.116px;transform:scaleX(1.0700);">/Volumes/Intenso/images_test_objects/</div>
<div class="t" style="left:722.5px;top:869px;height:58px;line-height:58px;font-size:25px;color:#e3e6f2;transform:scaleX(1.0360);">WR134</div>
<div class="t" style="left:1000px;top:869px;height:58px;line-height:58px;font-size:25px;color:#e3e6f2;transform:scaleX(1.0360);">WR134</div>
<div class="t" style="left:1278px;top:869px;height:58px;line-height:58px;font-size:25px;color:#e3e6f2;transform:scaleX(1.0106);">WR</div>
<div class="t" style="left:1448px;top:869px;height:58px;line-height:58px;font-size:25px;color:#e3e6f2;letter-spacing:0.430px;transform:scaleX(1.0700);">2024</div>
<div class="t" style="left:1608px;top:869px;height:58px;line-height:58px;font-size:25px;color:#e3e6f2;transform:scaleX(0.9948);">B,G,HA,Oiii,R</div>
<div class="t" style="left:1802px;top:869px;height:58px;line-height:58px;font-size:25px;color:#e3e6f2;letter-spacing:0.514px;transform:scaleX(1.0700);">0.0</div>
<div class="t" style="left:2004px;top:869px;height:58px;line-height:58px;font-size:25px;color:#e3e6f2;letter-spacing:0.664px;transform:scaleX(1.0700);">58.87</div>
<div class="t" style="left:2254px;top:869px;height:58px;line-height:58px;font-size:25px;color:#e3e6f2;letter-spacing:0.664px;transform:scaleX(1.0700);">58.87</div>
<div class="t" style="left:2498px;top:869px;height:58px;line-height:58px;font-size:25px;color:#e3e6f2;transform:scaleX(1.0257);">APO_Mono_94…</div>
<div class="t" style="left:2748px;top:869px;height:58px;line-height:58px;font-size:25px;color:#e3e6f2;letter-spacing:0.157px;transform:scaleX(1.0700);">QHY268M</div>
<div class="b" style="left:68px;top:988px;width:2830px;height:2px;background:#272b3b;"></div>
<div class="b" style="left:0px;top:930px;width:68px;height:60px;background:#2c2f3c;border:2px solid #363c4f;"></div>
<div class="t" style="left:10px;top:931.5px;height:58px;line-height:58px;font-size:23px;color:#e6e8f3;font-weight:bold;-webkit-text-stroke-width:0.25px;letter-spacing:0.300px;">15</div>
<div class="t" style="left:86px;top:929px;height:58px;line-height:58px;font-size:25px;color:#e3e6f2;transform:scaleX(1.0329);">NGC 1333</div>
<div class="t" style="left:254px;top:929px;height:58px;line-height:58px;font-size:25px;color:#e3e6f2;letter-spacing:0.116px;transform:scaleX(1.0700);">/Volumes/Intenso/images_test_objects/</div>
<div class="t" style="left:722.5px;top:929px;height:58px;line-height:58px;font-size:25px;color:#e3e6f2;transform:scaleX(1.0329);">NGC 1333</div>
<div class="t" style="left:1000px;top:929px;height:58px;line-height:58px;font-size:25px;color:#e3e6f2;transform:scaleX(1.0329);">NGC 1333</div>
<div class="t" style="left:1278px;top:929px;height:58px;line-height:58px;font-size:25px;color:#e3e6f2;transform:scaleX(1.0082);">NGC</div>
<div class="t" style="left:1448px;top:929px;height:58px;line-height:58px;font-size:25px;color:#e3e6f2;letter-spacing:0.680px;transform:scaleX(1.0700);">2023</div>
<div class="t" style="left:1608px;top:929px;height:58px;line-height:58px;font-size:25px;color:#e3e6f2;letter-spacing:-0.070px;transform:scaleX(0.9700);">UV/IR</div>
<div class="t" style="left:1802px;top:929px;height:58px;line-height:58px;font-size:25px;color:#e3e6f2;letter-spacing:0.514px;transform:scaleX(1.0700);">0.0</div>
<div class="t" style="left:2004px;top:929px;height:58px;line-height:58px;font-size:25px;color:#e3e6f2;letter-spacing:0.553px;transform:scaleX(1.0700);">9.05</div>
<div class="t" style="left:2254px;top:929px;height:58px;line-height:58px;font-size:25px;color:#e3e6f2;letter-spacing:0.553px;transform:scaleX(1.0700);">9.05</div>
<div class="t" style="left:2498px;top:929px;height:58px;line-height:58px;font-size:25px;color:#e3e6f2;letter-spacing:0.077px;transform:scaleX(1.0700);">Newton</div>
<div class="t" style="left:2748px;top:929px;height:58px;line-height:58px;font-size:25px;color:#e3e6f2;transform:scaleX(1.0583);">ZWO ASI53</div>
<div class="b" style="left:68px;top:1048px;width:2830px;height:2px;background:#272b3b;"></div>
<div class="b" style="left:0px;top:990px;width:68px;height:60px;background:#2c2f3c;border:2px solid #363c4f;"></div>
<div class="t" style="left:10px;top:991.5px;height:58px;line-height:58px;font-size:23px;color:#e6e8f3;font-weight:bold;-webkit-text-stroke-width:0.25px;letter-spacing:0.300px;">16</div>
<div class="t" style="left:86px;top:989px;height:58px;line-height:58px;font-size:25px;color:#e3e6f2;transform:scaleX(1.0456);">M 97</div>
<div class="t" style="left:254px;top:989px;height:58px;line-height:58px;font-size:25px;color:#e3e6f2;letter-spacing:0.116px;transform:scaleX(1.0700);">/Volumes/Intenso/images_test_objects/</div>
<div class="t" style="left:722.5px;top:989px;height:58px;line-height:58px;font-size:25px;color:#e3e6f2;transform:scaleX(1.0456);">M 97</div>
<div class="t" style="left:1000px;top:989px;height:58px;line-height:58px;font-size:25px;color:#e3e6f2;transform:scaleX(1.0456);">M 97</div>
<div class="t" style="left:1278px;top:989px;height:58px;line-height:58px;font-size:25px;color:#e3e6f2;letter-spacing:-0.162px;transform:scaleX(0.9700);">MESSIER</div>
<div class="t" style="left:1448px;top:989px;height:58px;line-height:58px;font-size:25px;color:#e3e6f2;letter-spacing:1.079px;transform:scaleX(1.0700);">2025</div>
<div class="t" style="left:1608px;top:989px;height:58px;line-height:58px;font-size:25px;color:#e3e6f2;letter-spacing:-0.047px;transform:scaleX(0.9700);">B,G,Ha,L,Oi…</div>
<div class="t" style="left:1802px;top:989px;height:58px;line-height:58px;font-size:25px;color:#e3e6f2;transform:scaleX(1.0040);">0.17</div>
<div class="t" style="left:2004px;top:989px;height:58px;line-height:58px;font-size:25px;color:#e3e6f2;transform:scaleX(1.0487);">11.08</div>
<div class="t" style="left:2254px;top:989px;height:58px;line-height:58px;font-size:25px;color:#e3e6f2;transform:scaleX(1.0145);">11.25</div>
<div class="t" style="left:2498px;top:989px;height:58px;line-height:58px;font-size:25px;color:#e3e6f2;letter-spacing:-0.026px;transform:scaleX(0.9700);">RC12@</div>
<div class="t" style="left:2748px;top:989px;height:58px;line-height:58px;font-size:25px;color:#e3e6f2;letter-spacing:0.390px;transform:scaleX(1.0700);">Poseidon-M</div>
<div class="b" style="left:68px;top:1108px;width:2830px;height:2px;background:#272b3b;"></div>
<div class="b" style="left:0px;top:1050px;width:68px;height:60px;background:#2c2f3c;border:2px solid #363c4f;"></div>
<div class="t" style="left:10px;top:1051.5px;height:58px;line-height:58px;font-size:23px;color:#e6e8f3;font-weight:bold;-webkit-text-stroke-width:0.25px;letter-spacing:0.300px;">17</div>
<div class="t" style="left:86px;top:1049px;height:58px;line-height:58px;font-size:25px;color:#e3e6f2;transform:scaleX(1.0580);">NGC 5033</div>
<div class="t" style="left:254px;top:1049px;height:58px;line-height:58px;font-size:25px;color:#e3e6f2;letter-spacing:0.116px;transform:scaleX(1.0700);">/Volumes/Intenso/images_test_objects/</div>
<div class="t" style="left:722.5px;top:1049px;height:58px;line-height:58px;font-size:25px;color:#e3e6f2;transform:scaleX(1.0592);">NGC5033</div>
<div class="t" style="left:1000px;top:1049px;height:58px;line-height:58px;font-size:25px;color:#e3e6f2;transform:scaleX(1.0580);">NGC 5033</div>
<div class="t" style="left:1278px;top:1049px;height:58px;line-height:58px;font-size:25px;color:#e3e6f2;transform:scaleX(1.0082);">NGC</div>
<div class="t" style="left:1448px;top:1049px;height:58px;line-height:58px;font-size:25px;color:#e3e6f2;letter-spacing:1.079px;transform:scaleX(1.0700);">2025</div>
<div class="t" style="left:1608px;top:1049px;height:58px;line-height:58px;font-size:25px;color:#e3e6f2;transform:scaleX(0.9816);">B,G,L,R</div>
<div class="t" style="left:1802px;top:1049px;height:58px;line-height:58px;font-size:25px;color:#e3e6f2;letter-spacing:0.553px;transform:scaleX(1.0700);">5.05</div>
<div class="t" style="left:2004px;top:1049px;height:58px;line-height:58px;font-size:25px;color:#e3e6f2;letter-spacing:0.425px;transform:scaleX(1.0700);">8.9</div>
<div class="t" style="left:2254px;top:1049px;height:58px;line-height:58px;font-size:25px;color:#e3e6f2;transform:scaleX(1.0649);">13.95</div>
<div class="t" style="left:2498px;top:1049px;height:58px;line-height:58px;font-size:25px;color:#e3e6f2;letter-spacing:-0.026px;transform:scaleX(0.9700);">RC12@</div>
<div class="t" style="left:2748px;top:1049px;height:58px;line-height:58px;font-size:25px;color:#e3e6f2;letter-spacing:0.390px;transform:scaleX(1.0700);">Poseidon-M</div>
<div class="b" style="left:68px;top:1168px;width:2830px;height:2px;background:#272b3b;"></div>
<div class="b" style="left:0px;top:1110px;width:68px;height:60px;background:#2c2f3c;border:2px solid #363c4f;"></div>
<div class="t" style="left:10px;top:1111.5px;height:58px;line-height:58px;font-size:23px;color:#e6e8f3;font-weight:bold;-webkit-text-stroke-width:0.25px;letter-spacing:0.300px;">18</div>
<div class="t" style="left:86px;top:1109px;height:58px;line-height:58px;font-size:25px;color:#e3e6f2;transform:scaleX(1.0485);">IC 5146</div>
<div class="t" style="left:254px;top:1109px;height:58px;line-height:58px;font-size:25px;color:#e3e6f2;letter-spacing:0.116px;transform:scaleX(1.0700);">/Volumes/Intenso/images_test_objects/</div>
<div class="t" style="left:722.5px;top:1109px;height:58px;line-height:58px;font-size:25px;color:#e3e6f2;transform:scaleX(1.0485);">IC 5146</div>
<div class="t" style="left:1000px;top:1109px;height:58px;line-height:58px;font-size:25px;color:#e3e6f2;transform:scaleX(1.0485);">IC 5146</div>
<div class="t" style="left:1278px;top:1109px;height:58px;line-height:58px;font-size:25px;color:#e3e6f2;transform:scaleX(0.9833);">IC</div>
<div class="t" style="left:1448px;top:1109px;height:58px;line-height:58px;font-size:25px;color:#e3e6f2;letter-spacing:0.430px;transform:scaleX(1.0700);">2024</div>
<div class="t" style="left:1608px;top:1109px;height:58px;line-height:58px;font-size:25px;color:#e3e6f2;transform:scaleX(0.9788);">B,G,HA,L,R</div>
<div class="t" style="left:1802px;top:1109px;height:58px;line-height:58px;font-size:25px;color:#e3e6f2;letter-spacing:0.425px;transform:scaleX(1.0700);">5.0</div>
<div class="t" style="left:2004px;top:1109px;height:58px;line-height:58px;font-size:25px;color:#e3e6f2;letter-spacing:0.553px;transform:scaleX(1.0700);">9.92</div>
<div class="t" style="left:2254px;top:1109px;height:58px;line-height:58px;font-size:25px;color:#e3e6f2;transform:scaleX(1.0649);">14.92</div>
<div class="t" style="left:2498px;top:1109px;height:58px;line-height:58px;font-size:25px;color:#e3e6f2;transform:scaleX(1.0257);">APO_Mono_94…</div>
<div class="t" style="left:2748px;top:1109px;height:58px;line-height:58px;font-size:25px;color:#e3e6f2;letter-spacing:0.157px;transform:scaleX(1.0700);">QHY268M</div>
<div class="b" style="left:68px;top:1228px;width:2830px;height:2px;background:#272b3b;"></div>
<div class="b" style="left:0px;top:1170px;width:68px;height:60px;background:#2c2f3c;border:2px solid #363c4f;"></div>
<div class="t" style="left:10px;top:1171.5px;height:58px;line-height:58px;font-size:23px;color:#e6e8f3;font-weight:bold;-webkit-text-stroke-width:0.25px;letter-spacing:0.300px;">19</div>
<div class="t" style="left:86px;top:1169px;height:58px;line-height:58px;font-size:25px;color:#e3e6f2;transform:scaleX(1.0495);">M 102</div>
<div class="t" style="left:254px;top:1169px;height:58px;line-height:58px;font-size:25px;color:#e3e6f2;letter-spacing:0.116px;transform:scaleX(1.0700);">/Volumes/Intenso/images_test_objects/</div>
<div class="t" style="left:722.5px;top:1169px;height:58px;line-height:58px;font-size:25px;color:#e3e6f2;transform:scaleX(1.0495);">M 102</div>
<div class="t" style="left:1000px;top:1169px;height:58px;line-height:58px;font-size:25px;color:#e3e6f2;transform:scaleX(1.0495);">M 102</div>
<div class="t" style="left:1278px;top:1169px;height:58px;line-height:58px;font-size:25px;color:#e3e6f2;letter-spacing:-0.162px;transform:scaleX(0.9700);">MESSIER</div>
<div class="t" style="left:1448px;top:1169px;height:58px;line-height:58px;font-size:25px;color:#e3e6f2;letter-spacing:1.079px;transform:scaleX(1.0700);">2025</div>
<div class="t" style="left:1608px;top:1169px;height:58px;line-height:58px;font-size:25px;color:#e3e6f2;transform:scaleX(0.9816);">B,G,L,R</div>
<div class="t" style="left:1802px;top:1169px;height:58px;line-height:58px;font-size:25px;color:#e3e6f2;letter-spacing:0.425px;transform:scaleX(1.0700);">2.5</div>
<div class="t" style="left:2004px;top:1169px;height:58px;line-height:58px;font-size:25px;color:#e3e6f2;transform:scaleX(1.0648);">3.75</div>
<div class="t" style="left:2254px;top:1169px;height:58px;line-height:58px;font-size:25px;color:#e3e6f2;letter-spacing:0.553px;transform:scaleX(1.0700);">6.25</div>
<div class="t" style="left:2498px;top:1169px;height:58px;line-height:58px;font-size:25px;color:#e3e6f2;letter-spacing:-0.026px;transform:scaleX(0.9700);">RC12@</div>
<div class="t" style="left:2748px;top:1169px;height:58px;line-height:58px;font-size:25px;color:#e3e6f2;letter-spacing:0.390px;transform:scaleX(1.0700);">Poseidon-M</div>
<div class="b" style="left:68px;top:1288px;width:2830px;height:2px;background:#272b3b;"></div>
<div class="b" style="left:0px;top:1230px;width:68px;height:60px;background:#2c2f3c;border:2px solid #363c4f;"></div>
<div class="t" style="left:10px;top:1231.5px;height:58px;line-height:58px;font-size:23px;color:#e6e8f3;font-weight:bold;-webkit-text-stroke-width:0.25px;letter-spacing:0.300px;">20</div>
<div class="t" style="left:86px;top:1229px;height:58px;line-height:58px;font-size:25px;color:#e3e6f2;transform:scaleX(1.0608);">Sh 2 136</div>
<div class="t" style="left:254px;top:1229px;height:58px;line-height:58px;font-size:25px;color:#e3e6f2;letter-spacing:0.116px;transform:scaleX(1.0700);">/Volumes/Intenso/images_test_objects/</div>
<div class="t" style="left:722.5px;top:1229px;height:58px;line-height:58px;font-size:25px;color:#e3e6f2;transform:scaleX(1.0624);">Sh2 136</div>
<div class="t" style="left:1000px;top:1229px;height:58px;line-height:58px;font-size:25px;color:#e3e6f2;transform:scaleX(1.0624);">Sh2 136</div>
<div class="t" style="left:1278px;top:1229px;height:58px;line-height:58px;font-size:25px;color:#e3e6f2;transform:scaleX(0.9760);">SHARPL…</div>
<div class="t" style="left:1448px;top:1229px;height:58px;line-height:58px;font-size:25px;color:#e3e6f2;letter-spacing:1.079px;transform:scaleX(1.0700);">2025</div>
<div class="t" style="left:1608px;top:1229px;height:58px;line-height:58px;font-size:25px;color:#e3e6f2;transform:scaleX(0.9816);">B,G,L,R</div>
<div class="t" style="left:1802px;top:1229px;height:58px;line-height:58px;font-size:25px;color:#e3e6f2;letter-spacing:0.553px;transform:scaleX(1.0700);">2.25</div>
<div class="t" style="left:2004px;top:1229px;height:58px;line-height:58px;font-size:25px;color:#e3e6f2;letter-spacing:0.553px;transform:scaleX(1.0700);">6.35</div>
<div class="t" style="left:2254px;top:1229px;height:58px;line-height:58px;font-size:25px;color:#e3e6f2;letter-spacing:0.425px;transform:scaleX(1.0700);">8.6</div>
<div class="t" style="left:2498px;top:1229px;height:58px;line-height:58px;font-size:25px;color:#e3e6f2;letter-spacing:-0.026px;transform:scaleX(0.9700);">RC12@</div>
<div class="t" style="left:2748px;top:1229px;height:58px;line-height:58px;font-size:25px;color:#e3e6f2;letter-spacing:0.390px;transform:scaleX(1.0700);">Poseidon-M</div>
<div class="b" style="left:68px;top:1348px;width:2830px;height:2px;background:#272b3b;"></div>
<div class="b" style="left:0px;top:1290px;width:68px;height:60px;background:#2c2f3c;border:2px solid #363c4f;"></div>
<div class="t" style="left:10px;top:1291.5px;height:58px;line-height:58px;font-size:23px;color:#e6e8f3;font-weight:bold;-webkit-text-stroke-width:0.25px;letter-spacing:0.300px;">21</div>
<div class="t" style="left:86px;top:1289px;height:58px;line-height:58px;font-size:25px;color:#e3e6f2;transform:scaleX(1.0507);">Sh 2 112</div>
<div class="t" style="left:254px;top:1289px;height:58px;line-height:58px;font-size:25px;color:#e3e6f2;letter-spacing:0.116px;transform:scaleX(1.0700);">/Volumes/Intenso/images_test_objects/</div>
<div class="t" style="left:722.5px;top:1289px;height:58px;line-height:58px;font-size:25px;color:#e3e6f2;transform:scaleX(1.0516);">Sh2 112</div>
<div class="t" style="left:1000px;top:1289px;height:58px;line-height:58px;font-size:25px;color:#e3e6f2;transform:scaleX(1.0516);">Sh2 112</div>
<div class="t" style="left:1278px;top:1289px;height:58px;line-height:58px;font-size:25px;color:#e3e6f2;transform:scaleX(0.9760);">SHARPL…</div>
<div class="t" style="left:1448px;top:1289px;height:58px;line-height:58px;font-size:25px;color:#e3e6f2;letter-spacing:1.079px;transform:scaleX(1.0700);">2025</div>
<div class="t" style="left:1608px;top:1289px;height:58px;line-height:58px;font-size:25px;color:#e3e6f2;transform:scaleX(1.0025);">B,G,Oiii</div>
<div class="t" style="left:1802px;top:1289px;height:58px;line-height:58px;font-size:25px;color:#e3e6f2;letter-spacing:0.514px;transform:scaleX(1.0700);">0.0</div>
<div class="t" style="left:2004px;top:1289px;height:58px;line-height:58px;font-size:25px;color:#e3e6f2;letter-spacing:0.553px;transform:scaleX(1.0700);">4.08</div>
<div class="t" style="left:2254px;top:1289px;height:58px;line-height:58px;font-size:25px;color:#e3e6f2;letter-spacing:0.553px;transform:scaleX(1.0700);">4.08</div>
<div class="t" style="left:2498px;top:1289px;height:58px;line-height:58px;font-size:25px;color:#e3e6f2;letter-spacing:-0.026px;transform:scaleX(0.9700);">RC12@</div>
<div class="t" style="left:2748px;top:1289px;height:58px;line-height:58px;font-size:25px;color:#e3e6f2;letter-spacing:0.390px;transform:scaleX(1.0700);">Poseidon-M</div>
<div class="b" style="left:68px;top:1408px;width:2830px;height:2px;background:#272b3b;"></div>
<div class="b" style="left:0px;top:1350px;width:68px;height:60px;background:#2c2f3c;border:2px solid #363c4f;"></div>
<div class="t" style="left:10px;top:1351.5px;height:58px;line-height:58px;font-size:23px;color:#e6e8f3;font-weight:bold;-webkit-text-stroke-width:0.25px;letter-spacing:0.300px;">22</div>
<div class="t" style="left:86px;top:1349px;height:58px;line-height:58px;font-size:25px;color:#e3e6f2;transform:scaleX(1.0569);">vdB 133</div>
<div class="t" style="left:254px;top:1349px;height:58px;line-height:58px;font-size:25px;color:#e3e6f2;letter-spacing:0.116px;transform:scaleX(1.0700);">/Volumes/Intenso/images_test_objects/</div>
<div class="t" style="left:722.5px;top:1349px;height:58px;line-height:58px;font-size:25px;color:#e3e6f2;transform:scaleX(1.0569);">vdB 133</div>
<div class="t" style="left:1000px;top:1349px;height:58px;line-height:58px;font-size:25px;color:#e3e6f2;transform:scaleX(1.0569);">vdB 133</div>
<div class="t" style="left:1278px;top:1349px;height:58px;line-height:58px;font-size:25px;color:#e3e6f2;transform:scaleX(0.9864);">VDB</div>
<div class="t" style="left:1448px;top:1349px;height:58px;line-height:58px;font-size:25px;color:#e3e6f2;letter-spacing:1.079px;transform:scaleX(1.0700);">2025</div>
<div class="t" style="left:1608px;top:1349px;height:58px;line-height:58px;font-size:25px;color:#e3e6f2;transform:scaleX(0.9816);">B,G,L,R</div>
<div class="t" style="left:1802px;top:1349px;height:58px;line-height:58px;font-size:25px;color:#e3e6f2;transform:scaleX(0.9903);">1.67</div>
<div class="t" style="left:2004px;top:1349px;height:58px;line-height:58px;font-size:25px;color:#e3e6f2;letter-spacing:0.425px;transform:scaleX(1.0700);">2.5</div>
<div class="t" style="left:2254px;top:1349px;height:58px;line-height:58px;font-size:25px;color:#e3e6f2;transform:scaleX(1.0040);">4.17</div>
<div class="t" style="left:2498px;top:1349px;height:58px;line-height:58px;font-size:25px;color:#e3e6f2;letter-spacing:-0.026px;transform:scaleX(0.9700);">RC12@</div>
<div class="t" style="left:2748px;top:1349px;height:58px;line-height:58px;font-size:25px;color:#e3e6f2;letter-spacing:0.390px;transform:scaleX(1.0700);">Poseidon-M</div>
<div class="b" style="left:68px;top:1468px;width:2830px;height:2px;background:#272b3b;"></div>
<div class="b" style="left:0px;top:1410px;width:68px;height:60px;background:#2c2f3c;border:2px solid #363c4f;"></div>
<div class="t" style="left:10px;top:1411.5px;height:58px;line-height:58px;font-size:23px;color:#e6e8f3;font-weight:bold;-webkit-text-stroke-width:0.25px;letter-spacing:0.300px;">23</div>
<div class="t" style="left:86px;top:1409px;height:58px;line-height:58px;font-size:25px;color:#e3e6f2;transform:scaleX(1.0580);">NGC 3953</div>
<div class="t" style="left:254px;top:1409px;height:58px;line-height:58px;font-size:25px;color:#e3e6f2;letter-spacing:0.116px;transform:scaleX(1.0700);">/Volumes/Intenso/images_test_objects/</div>
<div class="t" style="left:722.5px;top:1409px;height:58px;line-height:58px;font-size:25px;color:#e3e6f2;transform:scaleX(1.0580);">NGC 3953</div>
<div class="t" style="left:1000px;top:1409px;height:58px;line-height:58px;font-size:25px;color:#e3e6f2;transform:scaleX(1.0580);">NGC 3953</div>
<div class="t" style="left:1278px;top:1409px;height:58px;line-height:58px;font-size:25px;color:#e3e6f2;transform:scaleX(1.0082);">NGC</div>
<div class="t" style="left:1448px;top:1409px;height:58px;line-height:58px;font-size:25px;color:#e3e6f2;letter-spacing:1.079px;transform:scaleX(1.0700);">2025</div>
<div class="t" style="left:1608px;top:1409px;height:58px;line-height:58px;font-size:25px;color:#e3e6f2;transform:scaleX(0.9816);">B,G,L,R</div>
<div class="t" style="left:1802px;top:1409px;height:58px;line-height:58px;font-size:25px;color:#e3e6f2;letter-spacing:0.553px;transform:scaleX(1.0700);">5.05</div>
<div class="t" style="left:2004px;top:1409px;height:58px;line-height:58px;font-size:25px;color:#e3e6f2;letter-spacing:0.425px;transform:scaleX(1.0700);">8.8</div>
<div class="t" style="left:2254px;top:1409px;height:58px;line-height:58px;font-size:25px;color:#e3e6f2;transform:scaleX(1.0649);">13.85</div>
<div class="t" style="left:2498px;top:1409px;height:58px;line-height:58px;font-size:25px;color:#e3e6f2;letter-spacing:-0.026px;transform:scaleX(0.9700);">RC12@</div>
<div class="t" style="left:2748px;top:1409px;height:58px;line-height:58px;font-size:25px;color:#e3e6f2;letter-spacing:0.390px;transform:scaleX(1.0700);">Poseidon-M</div>
<div class="b" style="left:68px;top:1528px;width:2830px;height:2px;background:#272b3b;"></div>
<div class="b" style="left:0px;top:1470px;width:68px;height:60px;background:#2c2f3c;border:2px solid #363c4f;"></div>
<div class="t" style="left:10px;top:1471.5px;height:58px;line-height:58px;font-size:23px;color:#e6e8f3;font-weight:bold;-webkit-text-stroke-width:0.25px;letter-spacing:0.300px;">24</div>
<div class="t" style="left:86px;top:1469px;height:58px;line-height:58px;font-size:25px;color:#e3e6f2;transform:scaleX(1.0580);">NGC 6820</div>
<div class="t" style="left:254px;top:1469px;height:58px;line-height:58px;font-size:25px;color:#e3e6f2;letter-spacing:0.116px;transform:scaleX(1.0700);">/Volumes/Intenso/images_test_objects/</div>
<div class="t" style="left:722.5px;top:1469px;height:58px;line-height:58px;font-size:25px;color:#e3e6f2;transform:scaleX(1.0580);">NGC 6820</div>
<div class="t" style="left:1000px;top:1469px;height:58px;line-height:58px;font-size:25px;color:#e3e6f2;transform:scaleX(1.0580);">NGC 6820</div>
<div class="t" style="left:1278px;top:1469px;height:58px;line-height:58px;font-size:25px;color:#e3e6f2;transform:scaleX(1.0082);">NGC</div>
<div class="t" style="left:1448px;top:1469px;height:58px;line-height:58px;font-size:25px;color:#e3e6f2;letter-spacing:0.680px;transform:scaleX(1.0700);">2023</div>
<div class="t" style="left:1608px;top:1469px;height:58px;line-height:58px;font-size:25px;color:#e3e6f2;">HA,Oiii,SI</div>
<div class="t" style="left:1802px;top:1469px;height:58px;line-height:58px;font-size:25px;color:#e3e6f2;letter-spacing:0.514px;transform:scaleX(1.0700);">0.0</div>
<div class="t" style="left:2004px;top:1469px;height:58px;line-height:58px;font-size:25px;color:#e3e6f2;transform:scaleX(1.0325);">13.75</div>
<div class="t" style="left:2254px;top:1469px;height:58px;line-height:58px;font-size:25px;color:#e3e6f2;transform:scaleX(1.0325);">13.75</div>
<div class="t" style="left:2498px;top:1469px;height:58px;line-height:58px;font-size:25px;color:#e3e6f2;transform:scaleX(1.0257);">APO_Mono_94…</div>
<div class="t" style="left:2748px;top:1469px;height:58px;line-height:58px;font-size:25px;color:#e3e6f2;letter-spacing:0.157px;transform:scaleX(1.0700);">QHY268M</div>
<div class="b" style="left:68px;top:1588px;width:2830px;height:2px;background:#272b3b;"></div>
<div class="b" style="left:0px;top:1530px;width:68px;height:60px;background:#2c2f3c;border:2px solid #363c4f;"></div>
<div class="t" style="left:10px;top:1531.5px;height:58px;line-height:58px;font-size:23px;color:#e6e8f3;font-weight:bold;-webkit-text-stroke-width:0.25px;letter-spacing:0.300px;">25</div>
<div class="t" style="left:86px;top:1529px;height:58px;line-height:58px;font-size:25px;color:#e3e6f2;letter-spacing:0.603px;transform:scaleX(1.0700);">300.00s</div>
<div class="t" style="left:254px;top:1529px;height:58px;line-height:58px;font-size:25px;color:#e3e6f2;letter-spacing:0.116px;transform:scaleX(1.0700);">/Volumes/Intenso/images_test_objects/</div>
<div class="t" style="left:722.5px;top:1529px;height:58px;line-height:58px;font-size:25px;color:#e3e6f2;transform:scaleX(1.0084);">PK 164+31.1</div>
<div class="t" style="left:1000px;top:1529px;height:58px;line-height:58px;font-size:25px;color:#e3e6f2;transform:scaleX(1.0084);">PK 164+31.1</div>
<div class="t" style="left:1278px;top:1529px;height:58px;line-height:58px;font-size:25px;color:#e3e6f2;letter-spacing:0.152px;transform:scaleX(1.0700);">Unknown</div>
<div class="t" style="left:1448px;top:1529px;height:58px;line-height:58px;font-size:25px;color:#e3e6f2;letter-spacing:0.680px;transform:scaleX(1.0700);">2023</div>
<div class="t" style="left:1608px;top:1529px;height:58px;line-height:58px;font-size:25px;color:#e3e6f2;letter-spacing:-0.070px;transform:scaleX(0.9700);">UV/IR</div>
<div class="t" style="left:1802px;top:1529px;height:58px;line-height:58px;font-size:25px;color:#e3e6f2;letter-spacing:0.514px;transform:scaleX(1.0700);">0.0</div>
<div class="t" style="left:2004px;top:1529px;height:58px;line-height:58px;font-size:25px;color:#e3e6f2;transform:scaleX(1.0649);">19.42</div>
<div class="t" style="left:2254px;top:1529px;height:58px;line-height:58px;font-size:25px;color:#e3e6f2;transform:scaleX(1.0649);">19.42</div>
<div class="t" style="left:2498px;top:1529px;height:58px;line-height:58px;font-size:25px;color:#e3e6f2;letter-spacing:-0.026px;transform:scaleX(0.9700);">RC12@</div>
<div class="t" style="left:2748px;top:1529px;height:58px;line-height:58px;font-size:25px;color:#e3e6f2;transform:scaleX(1.0209);">ATR3CMOS</div>
<div class="b" style="left:68px;top:1648px;width:2830px;height:2px;background:#272b3b;"></div>
<div class="b" style="left:0px;top:1590px;width:68px;height:60px;background:#2c2f3c;border:2px solid #363c4f;"></div>
</div>
<div class="b" style="left:2932px;top:214px;width:29px;height:1592px;background:#232633;"></div>
<div class="b" style="left:2932px;top:214px;width:1px;height:1592px;background:#2b2f3f;"></div>
<div class="b" style="left:44px;top:1806px;width:2889px;height:30px;background:#232633;border-radius:0 0 0 6px;"></div>
<div class="b" style="left:44px;top:1806px;width:2889px;height:1px;background:#2b2f3f;"></div>
<div class="b" style="left:2940px;top:220px;width:16px;height:1162px;background:#95969b;border-radius:8px;"></div>
<div class="b" style="left:50px;top:1814px;width:1270px;height:16px;background:#95969b;border-radius:8px;"></div>
<div class="b" style="left:2932px;top:1805px;width:29px;height:31px;background:#131623;border-left:2px solid #e8e8e2;border-top:2px solid #e8e8e2;border-radius:0 0 6px 0;"></div>
<div class="b" style="left:2964px;top:212px;width:14px;height:1640px;background:#1d212e;"></div>
<div class="b" style="left:42px;top:1838px;width:3716px;height:14px;background:#1d212e;"></div>
<div class="b" style="left:2978px;top:212px;width:780px;height:1626px;background:#151826;border:2px solid #262b3a;border-radius:9px;"></div>
<svg style="left:2997px;top:225px" width="12" height="17" viewBox="0 0 12 17"><path d="M1.2 1.2 L10 8.4 L1.2 15.6" fill="none" stroke="#8c8d9b" stroke-width="2.4" stroke-linecap="round" stroke-linejoin="round"/></svg>
<svg style="left:3031px;top:218px" width="30" height="31" viewBox="0 0 30 31">
<defs><linearGradient id="dg" x1="0" y1="0" x2="1" y2="1"><stop offset="0" stop-color="#b9c6cc"/><stop offset="0.6" stop-color="#c6d3d9"/><stop offset="1" stop-color="#d6e3e8"/></linearGradient>
<linearGradient id="dg2" x1="0" y1="0" x2="0" y2="1"><stop offset="0" stop-color="#8d9699"/><stop offset="1" stop-color="#596063"/></linearGradient></defs>
<path d="M1.3 24.6 H28.7 L28.4 28.6 a1.2 1.2 0 0 1 -1.2 1.1 H2.8 a1.2 1.2 0 0 1 -1.2 -1.1 Z" fill="url(#dg2)"/>
<rect x="6" y="25.6" width="4.4" height="3" fill="#2e3335"/><rect x="13" y="25.6" width="5" height="3" fill="#2e3335"/><rect x="20.4" y="25.6" width="1.2" height="3" fill="#2e3335"/>
<path d="M4 1 H26.2 a1 1 0 0 1 1 0.8 L29 24.6 H1 L3 1.8 a1 1 0 0 1 1 -0.8 Z" fill="url(#dg)"/>
<rect x="7" y="2.2" width="12" height="2.7" fill="#6a6f70"/><rect x="7" y="4.9" width="12" height="0.9" fill="#9aa5aa"/>
<path d="M23.6 2.4 L24.6 15" stroke="#8d979c" stroke-width="0.9"/>
<path d="M19.4 7.2 C12 8.6 5.6 10.6 5.2 16.2 C5 21 10.6 23.3 15.6 23.3 C21 23.3 25 20 24.8 15.5" fill="none" stroke="#8f949f" stroke-width="0.7"/>
<path d="M15.6 23.3 C21 23.3 25 20 24.8 15.5" fill="none" stroke="#f4f8fa" stroke-width="0.9"/>
<circle cx="19.6" cy="7" r="0.7" fill="#7a5a5a"/>
<path d="M10.2 15.6 L14.6 12.9 L19.4 15.6 L14.8 18.6 Z" fill="#d2dfe4" stroke="#9aa2ad" stroke-width="0.6" stroke-linejoin="round"/>
</svg>
<svg style="left:3072px;top:221px" width="12" height="28" viewBox="0 0 12 28"><path d="M3.7 26.7 L8.6 1.9" stroke="#e6e8f4" stroke-width="2.9" fill="none"/></svg>
<div class="b" style="left:42px;top:1868px;width:3717px;height:116px;background:#131623;border:2px solid #262b3a;border-radius:8px;"></div>
<div class="b" style="left:62px;top:1852px;width:258px;height:32px;background:#161927;"></div>
<div class="t" style="left:76.6px;top:1853px;height:32px;line-height:32px;font-size:26px;color:#e3e6f2;transform:scaleX(1.0384);">Overview Statistics</div>
<div class="t" style="left:69px;top:1922px;height:44px;line-height:44px;font-size:26px;color:#e3e6f2;transform:scaleX(1.0130);">Telescopes: 7</div>
<div class="t" style="left:690.6px;top:1922px;height:44px;line-height:44px;font-size:26px;color:#e3e6f2;transform:scaleX(1.0049);">Cameras: 5</div>
<div class="t" style="left:1313px;top:1922px;height:44px;line-height:44px;font-size:26px;color:#e3e6f2;transform:scaleX(1.0314);">Total Exposure: 398.5 hrs</div>
<div class="t" style="left:1935px;top:1922px;height:44px;line-height:44px;font-size:26px;color:#e3e6f2;transform:scaleX(1.0344);">Targets: 33</div>
<div class="t" style="left:2556.5px;top:1922px;height:44px;line-height:44px;font-size:26px;color:#e3e6f2;transform:scaleX(0.9701);">Catalogues: NGC:8, MESSIER:13, BARNARD:1, WR:1, IC:3, SHARPLESS:2, VDB:2, Unknown:3, LBN:1</div>
</div></body></html>
